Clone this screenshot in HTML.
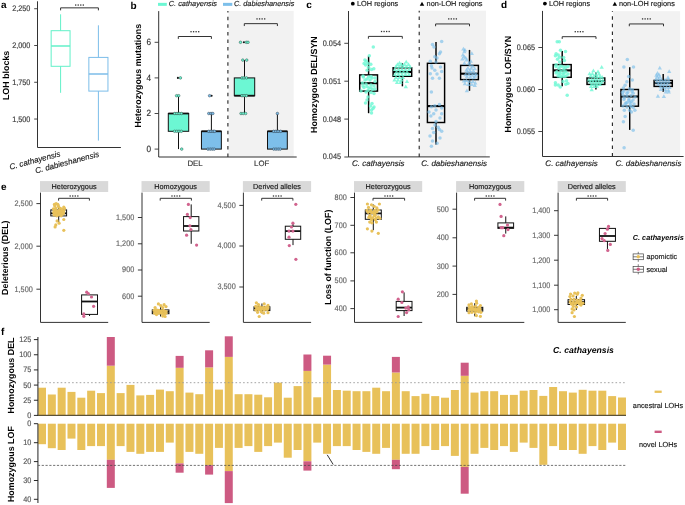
<!DOCTYPE html>
<html><head><meta charset="utf-8"><style>
html,body{margin:0;padding:0;background:#fff;}
body{width:685px;height:505px;overflow:hidden;}
svg{display:block;font-family:"Liberation Sans", sans-serif;will-change:transform;text-rendering:geometricPrecision;}
</style></head><body>
<svg width="685" height="505" viewBox="0 0 685 505">
<rect width="685" height="505" fill="#fff"/>
<text x="0.9" y="7.9" font-size="10" fill="#000" text-anchor="start" font-weight="bold" font-style="normal" >a</text>
<text x="130.6" y="8.9" font-size="10" fill="#000" text-anchor="start" font-weight="bold" font-style="normal" >b</text>
<text x="306.2" y="8.4" font-size="10" fill="#000" text-anchor="start" font-weight="bold" font-style="normal" >c</text>
<text x="501" y="8.4" font-size="10" fill="#000" text-anchor="start" font-weight="bold" font-style="normal" >d</text>
<text x="0.9" y="189.6" font-size="10" fill="#000" text-anchor="start" font-weight="bold" font-style="normal" >e</text>
<text x="0.9" y="334.5" font-size="10" fill="#000" text-anchor="start" font-weight="bold" font-style="normal" >f</text>
<line x1="37.5" y1="1.3" x2="37.5" y2="147.5" stroke="#333" stroke-width="1" />
<line x1="37.5" y1="147.5" x2="120.9" y2="147.5" stroke="#333" stroke-width="1" />
<line x1="34.2" y1="8.73" x2="37.5" y2="8.73" stroke="#333" stroke-width="0.9" />
<text x="0" y="0" font-size="7.3" fill="#383838" text-anchor="end" font-weight="normal" font-style="normal" transform="translate(30.4 11.33) scale(1 1.1)"  stroke="#383838" stroke-width="0.15">2,250</text>
<line x1="34.2" y1="45.5" x2="37.5" y2="45.5" stroke="#333" stroke-width="0.9" />
<text x="0" y="0" font-size="7.3" fill="#383838" text-anchor="end" font-weight="normal" font-style="normal" transform="translate(30.4 48.1) scale(1 1.1)"  stroke="#383838" stroke-width="0.15">2,000</text>
<line x1="34.2" y1="82.27" x2="37.5" y2="82.27" stroke="#333" stroke-width="0.9" />
<text x="0" y="0" font-size="7.3" fill="#383838" text-anchor="end" font-weight="normal" font-style="normal" transform="translate(30.4 84.87) scale(1 1.1)"  stroke="#383838" stroke-width="0.15">1,750</text>
<line x1="34.2" y1="119.04" x2="37.5" y2="119.04" stroke="#333" stroke-width="0.9" />
<text x="0" y="0" font-size="7.3" fill="#383838" text-anchor="end" font-weight="normal" font-style="normal" transform="translate(30.4 121.64) scale(1 1.1)"  stroke="#383838" stroke-width="0.15">1,500</text>
<text x="8.7" y="75.4" font-size="8.9" fill="#000" text-anchor="middle" font-weight="bold" font-style="normal" transform="rotate(-90 8.7 75.4)" >LOH blocks</text>
<path d="M60.6 10.35V7.85H98.4V10.35" fill="none" stroke="#333" stroke-width="1.0"/>
<rect x="75.02" y="4.4" width="1.3" height="1.3" fill="#333"/>
<rect x="77.57" y="4.4" width="1.3" height="1.3" fill="#333"/>
<rect x="80.12" y="4.4" width="1.3" height="1.3" fill="#333"/>
<rect x="82.67" y="4.4" width="1.3" height="1.3" fill="#333"/>
<line x1="60.6" y1="14.3" x2="60.6" y2="30.7" stroke="#62f0c8" stroke-width="1.0" />
<line x1="60.6" y1="66.3" x2="60.6" y2="92.8" stroke="#62f0c8" stroke-width="1.0" />
<rect x="51.15" y="30.7" width="18.9" height="35.6" fill="none" stroke="#62f0c8" stroke-width="1.0" />
<line x1="51.15" y1="46" x2="70.05" y2="46" stroke="#62f0c8" stroke-width="1.5" />
<line x1="98.4" y1="25.3" x2="98.4" y2="57.4" stroke="#7cbde9" stroke-width="1.0" />
<line x1="98.4" y1="91.1" x2="98.4" y2="140.6" stroke="#7cbde9" stroke-width="1.0" />
<rect x="88.85" y="57.4" width="19.1" height="33.7" fill="none" stroke="#7cbde9" stroke-width="1.0" />
<line x1="88.85" y1="74" x2="107.95" y2="74" stroke="#7cbde9" stroke-width="1.5" />
<text x="60.9" y="156.1" font-size="8" fill="#1a1a1a" text-anchor="end" font-weight="normal" font-style="italic" transform="rotate(-15 60.9 156.1)"  stroke="#1a1a1a" stroke-width="0.15">C. cathayensis</text>
<text x="99.6" y="156.4" font-size="8" fill="#1a1a1a" text-anchor="end" font-weight="normal" font-style="italic" transform="rotate(-15 99.6 156.4)"  stroke="#1a1a1a" stroke-width="0.15">C. dabieshanensis</text>
<rect x="228.5" y="10.9" width="65.2" height="146.1" fill="#f2f2f2" stroke="none" stroke-width="1" />
<line x1="227.9" y1="157" x2="227.9" y2="10.9" stroke="#222" stroke-width="1.1" stroke-dasharray="3.5 4.1"/>
<line x1="158.7" y1="11.1" x2="158.7" y2="157" stroke="#333" stroke-width="1" />
<line x1="158.7" y1="157" x2="296.7" y2="157" stroke="#333" stroke-width="1" />
<line x1="154.6" y1="149.1" x2="158.7" y2="149.1" stroke="#333" stroke-width="0.9" />
<text x="0" y="0" font-size="8.2" fill="#333" text-anchor="end" font-weight="normal" font-style="normal" transform="translate(151.1 151.8) scale(1 1.1)"  stroke="#333" stroke-width="0.15">0</text>
<line x1="154.6" y1="113.5" x2="158.7" y2="113.5" stroke="#333" stroke-width="0.9" />
<text x="0" y="0" font-size="8.2" fill="#333" text-anchor="end" font-weight="normal" font-style="normal" transform="translate(151.1 116.2) scale(1 1.1)"  stroke="#333" stroke-width="0.15">2</text>
<line x1="154.6" y1="77.9" x2="158.7" y2="77.9" stroke="#333" stroke-width="0.9" />
<text x="0" y="0" font-size="8.2" fill="#333" text-anchor="end" font-weight="normal" font-style="normal" transform="translate(151.1 80.6) scale(1 1.1)"  stroke="#333" stroke-width="0.15">4</text>
<line x1="154.6" y1="42.3" x2="158.7" y2="42.3" stroke="#333" stroke-width="0.9" />
<text x="0" y="0" font-size="8.2" fill="#333" text-anchor="end" font-weight="normal" font-style="normal" transform="translate(151.1 45) scale(1 1.1)"  stroke="#333" stroke-width="0.15">6</text>
<text x="141.3" y="75.7" font-size="8.9" fill="#000" text-anchor="middle" font-weight="bold" font-style="normal" transform="rotate(-90 141.3 75.7)" >Heterozygous mutations</text>
<rect x="158" y="2.85" width="8.8" height="3" fill="#6cf7d3" stroke="none" stroke-width="1" />
<text x="168.8" y="6.2" font-size="7.35" fill="#1a1a1a" text-anchor="start" font-weight="normal" font-style="italic"  stroke="#1a1a1a" stroke-width="0.15">C. cathayensis</text>
<rect x="223" y="2.85" width="9.3" height="3" fill="#7dbfea" stroke="none" stroke-width="1" />
<text x="233.9" y="6.2" font-size="7.35" fill="#1a1a1a" text-anchor="start" font-weight="normal" font-style="italic"  stroke="#1a1a1a" stroke-width="0.15">C. dabieshanensis</text>
<path d="M178.3 38.9V36.5H211.4V38.9" fill="none" stroke="#333" stroke-width="1.0"/>
<rect x="190.38" y="31.05" width="1.3" height="1.3" fill="#333"/>
<rect x="192.93" y="31.05" width="1.3" height="1.3" fill="#333"/>
<rect x="195.48" y="31.05" width="1.3" height="1.3" fill="#333"/>
<rect x="198.03" y="31.05" width="1.3" height="1.3" fill="#333"/>
<path d="M244.3 26.05V23.65H277.4V26.05" fill="none" stroke="#333" stroke-width="1.0"/>
<rect x="256.38" y="18.25" width="1.3" height="1.3" fill="#333"/>
<rect x="258.93" y="18.25" width="1.3" height="1.3" fill="#333"/>
<rect x="261.48" y="18.25" width="1.3" height="1.3" fill="#333"/>
<rect x="264.03" y="18.25" width="1.3" height="1.3" fill="#333"/>
<line x1="178.5" y1="95.7" x2="178.5" y2="113.5" stroke="#111" stroke-width="1.0" />
<line x1="178.5" y1="131.3" x2="178.5" y2="149.1" stroke="#111" stroke-width="1.0" />
<rect x="168.3" y="113.5" width="20.4" height="17.8" fill="#6cf7d3" stroke="#111" stroke-width="1.0" />
<line x1="168.3" y1="113.5" x2="188.7" y2="113.5" stroke="#111" stroke-width="1.8" />
<line x1="211.4" y1="113.5" x2="211.4" y2="131.3" stroke="#111" stroke-width="1.0" />
<rect x="201.45" y="131.3" width="19.9" height="17.8" fill="#7dbfea" stroke="#111" stroke-width="1.0" />
<line x1="201.5" y1="131.3" x2="221.4" y2="131.3" stroke="#111" stroke-width="1.8" />
<line x1="244.5" y1="60.1" x2="244.5" y2="77.9" stroke="#111" stroke-width="1.0" />
<line x1="244.5" y1="95.7" x2="244.5" y2="113.5" stroke="#111" stroke-width="1.0" />
<rect x="234.3" y="77.9" width="20.4" height="17.8" fill="#6cf7d3" stroke="#111" stroke-width="1.0" />
<line x1="234.3" y1="95.7" x2="254.7" y2="95.7" stroke="#111" stroke-width="1.8" />
<line x1="277.4" y1="113.5" x2="277.4" y2="131.3" stroke="#111" stroke-width="1.0" />
<rect x="267.5" y="131.3" width="19.8" height="17.8" fill="#7dbfea" stroke="#111" stroke-width="1.0" />
<line x1="267.5" y1="131.3" x2="287.3" y2="131.3" stroke="#111" stroke-width="1.8" />
<circle cx="177.9" cy="77.9" r="1.05" fill="#111" stroke="none" stroke-width="0.5"/>
<circle cx="211.6" cy="95.7" r="1.05" fill="#111" stroke="none" stroke-width="0.5"/>
<circle cx="243.9" cy="42.3" r="1.05" fill="#111" stroke="none" stroke-width="0.5"/>
<circle cx="180.4" cy="77.9" r="1.3" fill="#6cf7d3" stroke="#2f4f46" stroke-width="0.5"/>
<circle cx="176.6" cy="95.7" r="1.3" fill="#6cf7d3" stroke="#2f4f46" stroke-width="0.5"/>
<circle cx="178.7" cy="95.7" r="1.3" fill="#6cf7d3" stroke="#2f4f46" stroke-width="0.5"/>
<circle cx="174.8" cy="113.5" r="1.3" fill="#6cf7d3" stroke="#2f4f46" stroke-width="0.5"/>
<circle cx="177" cy="113.5" r="1.3" fill="#6cf7d3" stroke="#2f4f46" stroke-width="0.5"/>
<circle cx="179.2" cy="113.5" r="1.3" fill="#6cf7d3" stroke="#2f4f46" stroke-width="0.5"/>
<circle cx="181.4" cy="113.5" r="1.3" fill="#6cf7d3" stroke="#2f4f46" stroke-width="0.5"/>
<circle cx="174.6" cy="131.3" r="1.3" fill="#6cf7d3" stroke="#2f4f46" stroke-width="0.5"/>
<circle cx="176.8" cy="131.3" r="1.3" fill="#6cf7d3" stroke="#2f4f46" stroke-width="0.5"/>
<circle cx="179" cy="131.3" r="1.3" fill="#6cf7d3" stroke="#2f4f46" stroke-width="0.5"/>
<circle cx="181.3" cy="131.3" r="1.3" fill="#6cf7d3" stroke="#2f4f46" stroke-width="0.5"/>
<circle cx="181.7" cy="149.1" r="1.3" fill="#6cf7d3" stroke="#2f4f46" stroke-width="0.5"/>
<circle cx="209.6" cy="95.7" r="1.3" fill="#7dbfea" stroke="#2f3f4f" stroke-width="0.5"/>
<circle cx="208.8" cy="113.5" r="1.3" fill="#7dbfea" stroke="#2f3f4f" stroke-width="0.5"/>
<circle cx="211" cy="113.5" r="1.3" fill="#7dbfea" stroke="#2f3f4f" stroke-width="0.5"/>
<circle cx="212.8" cy="113.5" r="1.3" fill="#7dbfea" stroke="#2f3f4f" stroke-width="0.5"/>
<circle cx="208.8" cy="131.3" r="1.3" fill="#7dbfea" stroke="#2f3f4f" stroke-width="0.5"/>
<circle cx="211" cy="131.3" r="1.3" fill="#7dbfea" stroke="#2f3f4f" stroke-width="0.5"/>
<circle cx="213.2" cy="131.3" r="1.3" fill="#7dbfea" stroke="#2f3f4f" stroke-width="0.5"/>
<circle cx="214.6" cy="131.3" r="1.3" fill="#7dbfea" stroke="#2f3f4f" stroke-width="0.5"/>
<circle cx="208" cy="149.1" r="1.3" fill="#7dbfea" stroke="#2f3f4f" stroke-width="0.5"/>
<circle cx="210.2" cy="149.1" r="1.3" fill="#7dbfea" stroke="#2f3f4f" stroke-width="0.5"/>
<circle cx="212.3" cy="149.1" r="1.3" fill="#7dbfea" stroke="#2f3f4f" stroke-width="0.5"/>
<circle cx="214.2" cy="149.1" r="1.3" fill="#7dbfea" stroke="#2f3f4f" stroke-width="0.5"/>
<circle cx="240.5" cy="42.3" r="1.3" fill="#6cf7d3" stroke="#2f4f46" stroke-width="0.5"/>
<circle cx="246.3" cy="42.3" r="1.3" fill="#6cf7d3" stroke="#2f4f46" stroke-width="0.5"/>
<circle cx="248" cy="42.3" r="1.3" fill="#6cf7d3" stroke="#2f4f46" stroke-width="0.5"/>
<circle cx="242.8" cy="60.1" r="1.3" fill="#6cf7d3" stroke="#2f4f46" stroke-width="0.5"/>
<circle cx="246.7" cy="60.1" r="1.3" fill="#6cf7d3" stroke="#2f4f46" stroke-width="0.5"/>
<circle cx="242" cy="77.9" r="1.3" fill="#6cf7d3" stroke="#2f4f46" stroke-width="0.5"/>
<circle cx="244" cy="77.9" r="1.3" fill="#6cf7d3" stroke="#2f4f46" stroke-width="0.5"/>
<circle cx="246.4" cy="77.9" r="1.3" fill="#6cf7d3" stroke="#2f4f46" stroke-width="0.5"/>
<circle cx="242" cy="95.7" r="1.3" fill="#6cf7d3" stroke="#2f4f46" stroke-width="0.5"/>
<circle cx="244.2" cy="95.7" r="1.3" fill="#6cf7d3" stroke="#2f4f46" stroke-width="0.5"/>
<circle cx="246.4" cy="95.7" r="1.3" fill="#6cf7d3" stroke="#2f4f46" stroke-width="0.5"/>
<circle cx="241" cy="113.5" r="1.3" fill="#6cf7d3" stroke="#2f4f46" stroke-width="0.5"/>
<circle cx="243.2" cy="113.5" r="1.3" fill="#6cf7d3" stroke="#2f4f46" stroke-width="0.5"/>
<circle cx="245.6" cy="113.5" r="1.3" fill="#6cf7d3" stroke="#2f4f46" stroke-width="0.5"/>
<circle cx="277.4" cy="113.5" r="1.3" fill="#7dbfea" stroke="#2f3f4f" stroke-width="0.5"/>
<circle cx="273.7" cy="131.3" r="1.3" fill="#7dbfea" stroke="#2f3f4f" stroke-width="0.5"/>
<circle cx="275.9" cy="131.3" r="1.3" fill="#7dbfea" stroke="#2f3f4f" stroke-width="0.5"/>
<circle cx="278.1" cy="131.3" r="1.3" fill="#7dbfea" stroke="#2f3f4f" stroke-width="0.5"/>
<circle cx="280.6" cy="131.3" r="1.3" fill="#7dbfea" stroke="#2f3f4f" stroke-width="0.5"/>
<circle cx="273.8" cy="149.1" r="1.3" fill="#7dbfea" stroke="#2f3f4f" stroke-width="0.5"/>
<circle cx="276" cy="149.1" r="1.3" fill="#7dbfea" stroke="#2f3f4f" stroke-width="0.5"/>
<circle cx="278.2" cy="149.1" r="1.3" fill="#7dbfea" stroke="#2f3f4f" stroke-width="0.5"/>
<circle cx="280.2" cy="149.1" r="1.3" fill="#7dbfea" stroke="#2f3f4f" stroke-width="0.5"/>
<text x="195" y="166.4" font-size="7.8" fill="#333" text-anchor="middle" font-weight="normal" font-style="normal"  stroke="#333" stroke-width="0.15">DEL</text>
<text x="261.7" y="166.4" font-size="7.8" fill="#333" text-anchor="middle" font-weight="normal" font-style="normal"  stroke="#333" stroke-width="0.15">LOF</text>
<rect x="419.6" y="10.7" width="66.4" height="146.2" fill="#f2f2f2" stroke="none" stroke-width="1" />
<line x1="419.2" y1="156.9" x2="419.2" y2="10.7" stroke="#222" stroke-width="1.1" stroke-dasharray="3.5 4.1"/>
<line x1="348.5" y1="11" x2="348.5" y2="156.9" stroke="#333" stroke-width="1" />
<line x1="348.5" y1="156.9" x2="489.8" y2="156.9" stroke="#333" stroke-width="1" />
<line x1="344.3" y1="43.3" x2="348.5" y2="43.3" stroke="#333" stroke-width="0.9" />
<text x="0" y="0" font-size="7.3" fill="#383838" text-anchor="end" font-weight="normal" font-style="normal" transform="translate(341 45.7) scale(1 1.1)"  stroke="#383838" stroke-width="0.15">0.054</text>
<line x1="344.3" y1="81.2" x2="348.5" y2="81.2" stroke="#333" stroke-width="0.9" />
<text x="0" y="0" font-size="7.3" fill="#383838" text-anchor="end" font-weight="normal" font-style="normal" transform="translate(341 83.6) scale(1 1.1)"  stroke="#383838" stroke-width="0.15">0.051</text>
<line x1="344.3" y1="119.1" x2="348.5" y2="119.1" stroke="#333" stroke-width="0.9" />
<text x="0" y="0" font-size="7.3" fill="#383838" text-anchor="end" font-weight="normal" font-style="normal" transform="translate(341 121.5) scale(1 1.1)"  stroke="#383838" stroke-width="0.15">0.048</text>
<line x1="344.3" y1="157" x2="348.5" y2="157" stroke="#333" stroke-width="0.9" />
<text x="0" y="0" font-size="7.3" fill="#383838" text-anchor="end" font-weight="normal" font-style="normal" transform="translate(341 159.4) scale(1 1.1)"  stroke="#383838" stroke-width="0.15">0.045</text>
<text x="316.8" y="84.6" font-size="8.9" fill="#000" text-anchor="middle" font-weight="bold" font-style="normal" transform="rotate(-90 316.8 84.6)" >Homozygous DEL/SYN</text>
<circle cx="352.8" cy="3.7" r="1.9" fill="#000" stroke="none" stroke-width="0.5"/>
<text x="357" y="5.8" font-size="7.35" fill="#1a1a1a" text-anchor="start" font-weight="normal" font-style="normal"  stroke="#1a1a1a" stroke-width="0.15">LOH regions</text>
<path d="M422 1.76L424.25 5.66L419.75 5.66Z" fill="#000"/>
<text x="426.6" y="5.8" font-size="7.35" fill="#1a1a1a" text-anchor="start" font-weight="normal" font-style="normal"  stroke="#1a1a1a" stroke-width="0.15">non-LOH regions</text>
<path d="M368.4 38.7V36.4H402.3V38.7" fill="none" stroke="#333" stroke-width="1.0"/>
<rect x="380.88" y="30.85" width="1.3" height="1.3" fill="#333"/>
<rect x="383.43" y="30.85" width="1.3" height="1.3" fill="#333"/>
<rect x="385.98" y="30.85" width="1.3" height="1.3" fill="#333"/>
<rect x="388.53" y="30.85" width="1.3" height="1.3" fill="#333"/>
<path d="M435.6 26.25V23.95H469.5V26.25" fill="none" stroke="#333" stroke-width="1.0"/>
<rect x="448.08" y="18.25" width="1.3" height="1.3" fill="#333"/>
<rect x="450.63" y="18.25" width="1.3" height="1.3" fill="#333"/>
<rect x="453.18" y="18.25" width="1.3" height="1.3" fill="#333"/>
<rect x="455.73" y="18.25" width="1.3" height="1.3" fill="#333"/>
<text x="378.2" y="166" font-size="8" fill="#1a1a1a" text-anchor="middle" font-weight="normal" font-style="italic"  stroke="#1a1a1a" stroke-width="0.15">C. cathayensis</text>
<text x="454.1" y="166" font-size="8" fill="#1a1a1a" text-anchor="middle" font-weight="normal" font-style="italic"  stroke="#1a1a1a" stroke-width="0.15">C. dabieshanensis</text>
<line x1="368.6" y1="56.2" x2="368.6" y2="74.9" stroke="#000" stroke-width="1.45" />
<line x1="368.6" y1="91.1" x2="368.6" y2="113.2" stroke="#000" stroke-width="1.45" />
<rect x="359.7" y="74.9" width="17.8" height="16.2" fill="none" stroke="#000" stroke-width="1.45" />
<line x1="359.7" y1="83.2" x2="377.5" y2="83.2" stroke="#000" stroke-width="2.1" />
<line x1="402.4" y1="63.3" x2="402.4" y2="67.8" stroke="#000" stroke-width="1.45" />
<line x1="402.4" y1="76.3" x2="402.4" y2="86.3" stroke="#000" stroke-width="1.45" />
<rect x="393.1" y="67.8" width="18.6" height="8.5" fill="none" stroke="#000" stroke-width="1.45" />
<line x1="393.1" y1="72" x2="411.7" y2="72" stroke="#000" stroke-width="2.1" />
<line x1="436" y1="41.9" x2="436" y2="63.3" stroke="#000" stroke-width="1.45" />
<line x1="436" y1="122.5" x2="436" y2="144.6" stroke="#000" stroke-width="1.45" />
<rect x="427.4" y="63.3" width="17.2" height="59.2" fill="none" stroke="#000" stroke-width="1.45" />
<line x1="427.4" y1="106.1" x2="444.6" y2="106.1" stroke="#000" stroke-width="2.1" />
<line x1="469.5" y1="49.9" x2="469.5" y2="65.4" stroke="#000" stroke-width="1.45" />
<line x1="469.5" y1="79.6" x2="469.5" y2="90.8" stroke="#000" stroke-width="1.45" />
<rect x="460.6" y="65.4" width="17.8" height="14.2" fill="none" stroke="#000" stroke-width="1.45" />
<line x1="460.6" y1="73.7" x2="478.4" y2="73.7" stroke="#000" stroke-width="2.1" />
<circle cx="373.3" cy="46.9" r="1.75" fill="#6cf7d3" stroke="none" stroke-width="0.5" fill-opacity="0.8"/>
<circle cx="369.3" cy="55.7" r="1.75" fill="#6cf7d3" stroke="none" stroke-width="0.5" fill-opacity="0.8"/>
<circle cx="364.9" cy="59.9" r="1.75" fill="#6cf7d3" stroke="none" stroke-width="0.5" fill-opacity="0.8"/>
<circle cx="366.3" cy="61.3" r="1.75" fill="#6cf7d3" stroke="none" stroke-width="0.5" fill-opacity="0.8"/>
<circle cx="364.1" cy="63.6" r="1.75" fill="#6cf7d3" stroke="none" stroke-width="0.5" fill-opacity="0.8"/>
<circle cx="367.8" cy="63.6" r="1.75" fill="#6cf7d3" stroke="none" stroke-width="0.5" fill-opacity="0.8"/>
<circle cx="370.8" cy="64.3" r="1.75" fill="#6cf7d3" stroke="none" stroke-width="0.5" fill-opacity="0.8"/>
<circle cx="365.6" cy="65" r="1.75" fill="#6cf7d3" stroke="none" stroke-width="0.5" fill-opacity="0.8"/>
<circle cx="368.6" cy="67.3" r="1.75" fill="#6cf7d3" stroke="none" stroke-width="0.5" fill-opacity="0.8"/>
<circle cx="373.8" cy="68.8" r="1.75" fill="#6cf7d3" stroke="none" stroke-width="0.5" fill-opacity="0.8"/>
<circle cx="371.5" cy="69.5" r="1.75" fill="#6cf7d3" stroke="none" stroke-width="0.5" fill-opacity="0.8"/>
<circle cx="367.1" cy="70.3" r="1.75" fill="#6cf7d3" stroke="none" stroke-width="0.5" fill-opacity="0.8"/>
<circle cx="363.4" cy="77" r="1.75" fill="#6cf7d3" stroke="none" stroke-width="0.5" fill-opacity="0.8"/>
<circle cx="368.6" cy="77" r="1.75" fill="#6cf7d3" stroke="none" stroke-width="0.5" fill-opacity="0.8"/>
<circle cx="372" cy="78" r="1.75" fill="#6cf7d3" stroke="none" stroke-width="0.5" fill-opacity="0.8"/>
<circle cx="365" cy="80" r="1.75" fill="#6cf7d3" stroke="none" stroke-width="0.5" fill-opacity="0.8"/>
<circle cx="370" cy="80" r="1.75" fill="#6cf7d3" stroke="none" stroke-width="0.5" fill-opacity="0.8"/>
<circle cx="375" cy="81.5" r="1.75" fill="#6cf7d3" stroke="none" stroke-width="0.5" fill-opacity="0.8"/>
<circle cx="362.5" cy="83" r="1.75" fill="#6cf7d3" stroke="none" stroke-width="0.5" fill-opacity="0.8"/>
<circle cx="366" cy="84" r="1.75" fill="#6cf7d3" stroke="none" stroke-width="0.5" fill-opacity="0.8"/>
<circle cx="371" cy="85" r="1.75" fill="#6cf7d3" stroke="none" stroke-width="0.5" fill-opacity="0.8"/>
<circle cx="374" cy="86" r="1.75" fill="#6cf7d3" stroke="none" stroke-width="0.5" fill-opacity="0.8"/>
<circle cx="364" cy="87.5" r="1.75" fill="#6cf7d3" stroke="none" stroke-width="0.5" fill-opacity="0.8"/>
<circle cx="369" cy="88" r="1.75" fill="#6cf7d3" stroke="none" stroke-width="0.5" fill-opacity="0.8"/>
<circle cx="372.5" cy="89.5" r="1.75" fill="#6cf7d3" stroke="none" stroke-width="0.5" fill-opacity="0.8"/>
<circle cx="361" cy="91" r="1.75" fill="#6cf7d3" stroke="none" stroke-width="0.5" fill-opacity="0.8"/>
<circle cx="366" cy="92" r="1.75" fill="#6cf7d3" stroke="none" stroke-width="0.5" fill-opacity="0.8"/>
<circle cx="371" cy="92.5" r="1.75" fill="#6cf7d3" stroke="none" stroke-width="0.5" fill-opacity="0.8"/>
<circle cx="374" cy="93.5" r="1.75" fill="#6cf7d3" stroke="none" stroke-width="0.5" fill-opacity="0.8"/>
<circle cx="368" cy="97" r="1.75" fill="#6cf7d3" stroke="none" stroke-width="0.5" fill-opacity="0.8"/>
<circle cx="367" cy="100" r="1.75" fill="#6cf7d3" stroke="none" stroke-width="0.5" fill-opacity="0.8"/>
<circle cx="365.5" cy="103" r="1.75" fill="#6cf7d3" stroke="none" stroke-width="0.5" fill-opacity="0.8"/>
<circle cx="372" cy="103.5" r="1.75" fill="#6cf7d3" stroke="none" stroke-width="0.5" fill-opacity="0.8"/>
<circle cx="370.5" cy="106" r="1.75" fill="#6cf7d3" stroke="none" stroke-width="0.5" fill-opacity="0.8"/>
<circle cx="374" cy="107" r="1.75" fill="#6cf7d3" stroke="none" stroke-width="0.5" fill-opacity="0.8"/>
<circle cx="373" cy="108.5" r="1.75" fill="#6cf7d3" stroke="none" stroke-width="0.5" fill-opacity="0.8"/>
<circle cx="371.5" cy="110" r="1.75" fill="#6cf7d3" stroke="none" stroke-width="0.5" fill-opacity="0.8"/>
<circle cx="371.5" cy="113" r="1.75" fill="#6cf7d3" stroke="none" stroke-width="0.5" fill-opacity="0.8"/>
<circle cx="363" cy="76" r="1.75" fill="#6cf7d3" stroke="none" stroke-width="0.5" fill-opacity="0.8"/>
<circle cx="367" cy="79" r="1.75" fill="#6cf7d3" stroke="none" stroke-width="0.5" fill-opacity="0.8"/>
<circle cx="371" cy="76.5" r="1.75" fill="#6cf7d3" stroke="none" stroke-width="0.5" fill-opacity="0.8"/>
<circle cx="375" cy="78" r="1.75" fill="#6cf7d3" stroke="none" stroke-width="0.5" fill-opacity="0.8"/>
<circle cx="363" cy="86" r="1.75" fill="#6cf7d3" stroke="none" stroke-width="0.5" fill-opacity="0.8"/>
<circle cx="367" cy="86.5" r="1.75" fill="#6cf7d3" stroke="none" stroke-width="0.5" fill-opacity="0.8"/>
<circle cx="371" cy="88" r="1.75" fill="#6cf7d3" stroke="none" stroke-width="0.5" fill-opacity="0.8"/>
<circle cx="375" cy="89" r="1.75" fill="#6cf7d3" stroke="none" stroke-width="0.5" fill-opacity="0.8"/>
<circle cx="368" cy="90.5" r="1.75" fill="#6cf7d3" stroke="none" stroke-width="0.5" fill-opacity="0.8"/>
<path d="M399.5 60.67L401.65 64.39L397.35 64.39Z" fill="#6cf7d3" fill-opacity="0.8"/>
<path d="M406.2 59.87L408.35 63.59L404.05 63.59Z" fill="#6cf7d3" fill-opacity="0.8"/>
<path d="M397.5 62.27L399.65 65.99L395.35 65.99Z" fill="#6cf7d3" fill-opacity="0.8"/>
<path d="M401.5 62.27L403.65 65.99L399.35 65.99Z" fill="#6cf7d3" fill-opacity="0.8"/>
<path d="M404.5 62.27L406.65 65.99L402.35 65.99Z" fill="#6cf7d3" fill-opacity="0.8"/>
<path d="M408.5 62.27L410.65 65.99L406.35 65.99Z" fill="#6cf7d3" fill-opacity="0.8"/>
<path d="M396 64.27L398.15 67.99L393.85 67.99Z" fill="#6cf7d3" fill-opacity="0.8"/>
<path d="M399.5 64.27L401.65 67.99L397.35 67.99Z" fill="#6cf7d3" fill-opacity="0.8"/>
<path d="M403 64.27L405.15 67.99L400.85 67.99Z" fill="#6cf7d3" fill-opacity="0.8"/>
<path d="M406.5 64.27L408.65 67.99L404.35 67.99Z" fill="#6cf7d3" fill-opacity="0.8"/>
<path d="M410 64.57L412.15 68.29L407.85 68.29Z" fill="#6cf7d3" fill-opacity="0.8"/>
<path d="M395 67.27L397.15 70.99L392.85 70.99Z" fill="#6cf7d3" fill-opacity="0.8"/>
<path d="M398.5 67.27L400.65 70.99L396.35 70.99Z" fill="#6cf7d3" fill-opacity="0.8"/>
<path d="M402 67.27L404.15 70.99L399.85 70.99Z" fill="#6cf7d3" fill-opacity="0.8"/>
<path d="M405.5 67.27L407.65 70.99L403.35 70.99Z" fill="#6cf7d3" fill-opacity="0.8"/>
<path d="M409 67.27L411.15 70.99L406.85 70.99Z" fill="#6cf7d3" fill-opacity="0.8"/>
<path d="M396.5 69.77L398.65 73.49L394.35 73.49Z" fill="#6cf7d3" fill-opacity="0.8"/>
<path d="M400 69.77L402.15 73.49L397.85 73.49Z" fill="#6cf7d3" fill-opacity="0.8"/>
<path d="M403.5 69.77L405.65 73.49L401.35 73.49Z" fill="#6cf7d3" fill-opacity="0.8"/>
<path d="M407 69.77L409.15 73.49L404.85 73.49Z" fill="#6cf7d3" fill-opacity="0.8"/>
<path d="M395 72.27L397.15 75.99L392.85 75.99Z" fill="#6cf7d3" fill-opacity="0.8"/>
<path d="M398.5 72.27L400.65 75.99L396.35 75.99Z" fill="#6cf7d3" fill-opacity="0.8"/>
<path d="M402 72.27L404.15 75.99L399.85 75.99Z" fill="#6cf7d3" fill-opacity="0.8"/>
<path d="M405.5 72.27L407.65 75.99L403.35 75.99Z" fill="#6cf7d3" fill-opacity="0.8"/>
<path d="M409 72.27L411.15 75.99L406.85 75.99Z" fill="#6cf7d3" fill-opacity="0.8"/>
<path d="M396 75.27L398.15 78.99L393.85 78.99Z" fill="#6cf7d3" fill-opacity="0.8"/>
<path d="M399.5 75.27L401.65 78.99L397.35 78.99Z" fill="#6cf7d3" fill-opacity="0.8"/>
<path d="M403 75.27L405.15 78.99L400.85 78.99Z" fill="#6cf7d3" fill-opacity="0.8"/>
<path d="M394.5 77.77L396.65 81.49L392.35 81.49Z" fill="#6cf7d3" fill-opacity="0.8"/>
<path d="M398 77.77L400.15 81.49L395.85 81.49Z" fill="#6cf7d3" fill-opacity="0.8"/>
<path d="M401.5 77.77L403.65 81.49L399.35 81.49Z" fill="#6cf7d3" fill-opacity="0.8"/>
<path d="M397 80.27L399.15 83.99L394.85 83.99Z" fill="#6cf7d3" fill-opacity="0.8"/>
<path d="M400.5 80.27L402.65 83.99L398.35 83.99Z" fill="#6cf7d3" fill-opacity="0.8"/>
<path d="M407 79.27L409.15 82.99L404.85 82.99Z" fill="#6cf7d3" fill-opacity="0.8"/>
<path d="M405.8 84.47L407.95 88.19L403.65 88.19Z" fill="#6cf7d3" fill-opacity="0.8"/>
<circle cx="432.5" cy="44.6" r="1.75" fill="#7dbfea" stroke="none" stroke-width="0.5" fill-opacity="0.66"/>
<circle cx="441.7" cy="41.4" r="1.75" fill="#7dbfea" stroke="none" stroke-width="0.5" fill-opacity="0.66"/>
<circle cx="440.5" cy="52.1" r="1.75" fill="#7dbfea" stroke="none" stroke-width="0.5" fill-opacity="0.66"/>
<circle cx="439.4" cy="53.7" r="1.75" fill="#7dbfea" stroke="none" stroke-width="0.5" fill-opacity="0.66"/>
<circle cx="434.8" cy="56.7" r="1.75" fill="#7dbfea" stroke="none" stroke-width="0.5" fill-opacity="0.66"/>
<circle cx="430.3" cy="61.2" r="1.75" fill="#7dbfea" stroke="none" stroke-width="0.5" fill-opacity="0.66"/>
<circle cx="436" cy="61.9" r="1.75" fill="#7dbfea" stroke="none" stroke-width="0.5" fill-opacity="0.66"/>
<circle cx="431.4" cy="65.8" r="1.75" fill="#7dbfea" stroke="none" stroke-width="0.5" fill-opacity="0.66"/>
<circle cx="440.5" cy="66.9" r="1.75" fill="#7dbfea" stroke="none" stroke-width="0.5" fill-opacity="0.66"/>
<circle cx="434.8" cy="70.3" r="1.75" fill="#7dbfea" stroke="none" stroke-width="0.5" fill-opacity="0.66"/>
<circle cx="441.7" cy="71.5" r="1.75" fill="#7dbfea" stroke="none" stroke-width="0.5" fill-opacity="0.66"/>
<circle cx="430.3" cy="73.8" r="1.75" fill="#7dbfea" stroke="none" stroke-width="0.5" fill-opacity="0.66"/>
<circle cx="432.5" cy="78.3" r="1.75" fill="#7dbfea" stroke="none" stroke-width="0.5" fill-opacity="0.66"/>
<circle cx="439.4" cy="78.3" r="1.75" fill="#7dbfea" stroke="none" stroke-width="0.5" fill-opacity="0.66"/>
<circle cx="431.4" cy="92" r="1.75" fill="#7dbfea" stroke="none" stroke-width="0.5" fill-opacity="0.66"/>
<circle cx="439.4" cy="104.5" r="1.75" fill="#7dbfea" stroke="none" stroke-width="0.5" fill-opacity="0.66"/>
<circle cx="431.4" cy="106.8" r="1.75" fill="#7dbfea" stroke="none" stroke-width="0.5" fill-opacity="0.66"/>
<circle cx="434.8" cy="105.7" r="1.75" fill="#7dbfea" stroke="none" stroke-width="0.5" fill-opacity="0.66"/>
<circle cx="441.7" cy="108" r="1.75" fill="#7dbfea" stroke="none" stroke-width="0.5" fill-opacity="0.66"/>
<circle cx="433.7" cy="113.7" r="1.75" fill="#7dbfea" stroke="none" stroke-width="0.5" fill-opacity="0.66"/>
<circle cx="430.9" cy="115.9" r="1.75" fill="#7dbfea" stroke="none" stroke-width="0.5" fill-opacity="0.66"/>
<circle cx="441.7" cy="113.7" r="1.75" fill="#7dbfea" stroke="none" stroke-width="0.5" fill-opacity="0.66"/>
<circle cx="436" cy="121.6" r="1.75" fill="#7dbfea" stroke="none" stroke-width="0.5" fill-opacity="0.66"/>
<circle cx="432.5" cy="128.5" r="1.75" fill="#7dbfea" stroke="none" stroke-width="0.5" fill-opacity="0.66"/>
<circle cx="438.2" cy="127.3" r="1.75" fill="#7dbfea" stroke="none" stroke-width="0.5" fill-opacity="0.66"/>
<circle cx="439.4" cy="129.6" r="1.75" fill="#7dbfea" stroke="none" stroke-width="0.5" fill-opacity="0.66"/>
<circle cx="441.7" cy="131.2" r="1.75" fill="#7dbfea" stroke="none" stroke-width="0.5" fill-opacity="0.66"/>
<circle cx="433.7" cy="132.6" r="1.75" fill="#7dbfea" stroke="none" stroke-width="0.5" fill-opacity="0.66"/>
<circle cx="432.5" cy="141" r="1.75" fill="#7dbfea" stroke="none" stroke-width="0.5" fill-opacity="0.66"/>
<circle cx="437.1" cy="143.3" r="1.75" fill="#7dbfea" stroke="none" stroke-width="0.5" fill-opacity="0.66"/>
<circle cx="431.4" cy="146.3" r="1.75" fill="#7dbfea" stroke="none" stroke-width="0.5" fill-opacity="0.66"/>
<circle cx="434" cy="47" r="1.75" fill="#7dbfea" stroke="none" stroke-width="0.5" fill-opacity="0.66"/>
<circle cx="437" cy="58" r="1.75" fill="#7dbfea" stroke="none" stroke-width="0.5" fill-opacity="0.66"/>
<circle cx="432" cy="68" r="1.75" fill="#7dbfea" stroke="none" stroke-width="0.5" fill-opacity="0.66"/>
<circle cx="437" cy="74" r="1.75" fill="#7dbfea" stroke="none" stroke-width="0.5" fill-opacity="0.66"/>
<circle cx="440" cy="118" r="1.75" fill="#7dbfea" stroke="none" stroke-width="0.5" fill-opacity="0.66"/>
<circle cx="435" cy="125" r="1.75" fill="#7dbfea" stroke="none" stroke-width="0.5" fill-opacity="0.66"/>
<circle cx="430" cy="136" r="1.75" fill="#7dbfea" stroke="none" stroke-width="0.5" fill-opacity="0.66"/>
<circle cx="440" cy="138" r="1.75" fill="#7dbfea" stroke="none" stroke-width="0.5" fill-opacity="0.66"/>
<circle cx="436" cy="110" r="1.75" fill="#7dbfea" stroke="none" stroke-width="0.5" fill-opacity="0.66"/>
<circle cx="429" cy="112" r="1.75" fill="#7dbfea" stroke="none" stroke-width="0.5" fill-opacity="0.66"/>
<path d="M463.4 46.77L465.55 50.49L461.25 50.49Z" fill="#7dbfea" fill-opacity="0.66"/>
<path d="M464.9 47.87L467.05 51.59L462.75 51.59Z" fill="#7dbfea" fill-opacity="0.66"/>
<path d="M471.8 51.17L473.95 54.89L469.65 54.89Z" fill="#7dbfea" fill-opacity="0.66"/>
<path d="M464.4 49.47L466.55 53.19L462.25 53.19Z" fill="#7dbfea" fill-opacity="0.66"/>
<path d="M462.9 52.67L465.05 56.39L460.75 56.39Z" fill="#7dbfea" fill-opacity="0.66"/>
<path d="M464.1 54.47L466.25 58.19L461.95 58.19Z" fill="#7dbfea" fill-opacity="0.66"/>
<path d="M465.7 55.87L467.85 59.59L463.55 59.59Z" fill="#7dbfea" fill-opacity="0.66"/>
<path d="M462.4 56.67L464.55 60.39L460.25 60.39Z" fill="#7dbfea" fill-opacity="0.66"/>
<path d="M466.7 57.67L468.85 61.39L464.55 61.39Z" fill="#7dbfea" fill-opacity="0.66"/>
<path d="M470.8 59.07L472.95 62.79L468.65 62.79Z" fill="#7dbfea" fill-opacity="0.66"/>
<path d="M464.4 61.07L466.55 64.79L462.25 64.79Z" fill="#7dbfea" fill-opacity="0.66"/>
<path d="M468.9 61.07L471.05 64.79L466.75 64.79Z" fill="#7dbfea" fill-opacity="0.66"/>
<path d="M470.3 62.57L472.45 66.29L468.15 66.29Z" fill="#7dbfea" fill-opacity="0.66"/>
<path d="M472.8 64.07L474.95 67.79L470.65 67.79Z" fill="#7dbfea" fill-opacity="0.66"/>
<path d="M467.9 66.07L470.05 69.79L465.75 69.79Z" fill="#7dbfea" fill-opacity="0.66"/>
<path d="M471.3 66.07L473.45 69.79L469.15 69.79Z" fill="#7dbfea" fill-opacity="0.66"/>
<path d="M474.8 66.57L476.95 70.29L472.65 70.29Z" fill="#7dbfea" fill-opacity="0.66"/>
<path d="M466.4 67.97L468.55 71.69L464.25 71.69Z" fill="#7dbfea" fill-opacity="0.66"/>
<path d="M469.9 68.27L472.05 71.99L467.75 71.99Z" fill="#7dbfea" fill-opacity="0.66"/>
<path d="M473.3 68.67L475.45 72.39L471.15 72.39Z" fill="#7dbfea" fill-opacity="0.66"/>
<path d="M467.4 69.97L469.55 73.69L465.25 73.69Z" fill="#7dbfea" fill-opacity="0.66"/>
<path d="M470.8 70.47L472.95 74.19L468.65 74.19Z" fill="#7dbfea" fill-opacity="0.66"/>
<path d="M474.3 70.97L476.45 74.69L472.15 74.69Z" fill="#7dbfea" fill-opacity="0.66"/>
<path d="M476.3 71.97L478.45 75.69L474.15 75.69Z" fill="#7dbfea" fill-opacity="0.66"/>
<path d="M465.4 72.47L467.55 76.19L463.25 76.19Z" fill="#7dbfea" fill-opacity="0.66"/>
<path d="M468.9 72.47L471.05 76.19L466.75 76.19Z" fill="#7dbfea" fill-opacity="0.66"/>
<path d="M472.3 72.97L474.45 76.69L470.15 76.69Z" fill="#7dbfea" fill-opacity="0.66"/>
<path d="M475.3 73.97L477.45 77.69L473.15 77.69Z" fill="#7dbfea" fill-opacity="0.66"/>
<path d="M466.9 74.47L469.05 78.19L464.75 78.19Z" fill="#7dbfea" fill-opacity="0.66"/>
<path d="M470.3 74.97L472.45 78.69L468.15 78.69Z" fill="#7dbfea" fill-opacity="0.66"/>
<path d="M473.8 75.47L475.95 79.19L471.65 79.19Z" fill="#7dbfea" fill-opacity="0.66"/>
<path d="M463.9 78.87L466.05 82.59L461.75 82.59Z" fill="#7dbfea" fill-opacity="0.66"/>
<path d="M466.4 78.37L468.55 82.09L464.25 82.09Z" fill="#7dbfea" fill-opacity="0.66"/>
<path d="M469.4 79.37L471.55 83.09L467.25 83.09Z" fill="#7dbfea" fill-opacity="0.66"/>
<path d="M472.8 79.17L474.95 82.89L470.65 82.89Z" fill="#7dbfea" fill-opacity="0.66"/>
<path d="M475.3 80.87L477.45 84.59L473.15 84.59Z" fill="#7dbfea" fill-opacity="0.66"/>
<path d="M464.9 81.57L467.05 85.29L462.75 85.29Z" fill="#7dbfea" fill-opacity="0.66"/>
<path d="M468.4 82.37L470.55 86.09L466.25 86.09Z" fill="#7dbfea" fill-opacity="0.66"/>
<path d="M471.8 82.37L473.95 86.09L469.65 86.09Z" fill="#7dbfea" fill-opacity="0.66"/>
<path d="M474.8 83.37L476.95 87.09L472.65 87.09Z" fill="#7dbfea" fill-opacity="0.66"/>
<path d="M466.9 88.47L469.05 92.19L464.75 92.19Z" fill="#7dbfea" fill-opacity="0.66"/>
<rect x="613" y="11.2" width="67.1" height="145.3" fill="#f2f2f2" stroke="none" stroke-width="1" />
<line x1="612.4" y1="156.5" x2="612.4" y2="11.2" stroke="#222" stroke-width="1.1" stroke-dasharray="3.5 4.1"/>
<line x1="542.5" y1="10.9" x2="542.5" y2="156.5" stroke="#333" stroke-width="1" />
<line x1="542.5" y1="156.5" x2="683.6" y2="156.5" stroke="#333" stroke-width="1" />
<line x1="538.3" y1="47.5" x2="542.5" y2="47.5" stroke="#333" stroke-width="0.9" />
<text x="0" y="0" font-size="7.3" fill="#383838" text-anchor="end" font-weight="normal" font-style="normal" transform="translate(535 49.9) scale(1 1.1)"  stroke="#383838" stroke-width="0.15">0.065</text>
<line x1="538.3" y1="89.5" x2="542.5" y2="89.5" stroke="#333" stroke-width="0.9" />
<text x="0" y="0" font-size="7.3" fill="#383838" text-anchor="end" font-weight="normal" font-style="normal" transform="translate(535 91.9) scale(1 1.1)"  stroke="#383838" stroke-width="0.15">0.060</text>
<line x1="538.3" y1="131.5" x2="542.5" y2="131.5" stroke="#333" stroke-width="0.9" />
<text x="0" y="0" font-size="7.3" fill="#383838" text-anchor="end" font-weight="normal" font-style="normal" transform="translate(535 133.9) scale(1 1.1)"  stroke="#383838" stroke-width="0.15">0.055</text>
<text x="511" y="84.2" font-size="8.9" fill="#000" text-anchor="middle" font-weight="bold" font-style="normal" transform="rotate(-90 511 84.2)" >Homozygous LOF/SYN</text>
<circle cx="544.9" cy="3.6" r="1.9" fill="#000" stroke="none" stroke-width="0.5"/>
<text x="548.9" y="5.8" font-size="7.35" fill="#1a1a1a" text-anchor="start" font-weight="normal" font-style="normal"  stroke="#1a1a1a" stroke-width="0.15">LOH regions</text>
<path d="M614.8 1.86L617.05 5.76L612.55 5.76Z" fill="#000"/>
<text x="618.9" y="5.8" font-size="7.35" fill="#1a1a1a" text-anchor="start" font-weight="normal" font-style="normal"  stroke="#1a1a1a" stroke-width="0.15">non-LOH regions</text>
<path d="M562.2 38.9V36.7H596V38.9" fill="none" stroke="#333" stroke-width="1.0"/>
<rect x="574.62" y="31.05" width="1.3" height="1.3" fill="#333"/>
<rect x="577.18" y="31.05" width="1.3" height="1.3" fill="#333"/>
<rect x="579.73" y="31.05" width="1.3" height="1.3" fill="#333"/>
<rect x="582.28" y="31.05" width="1.3" height="1.3" fill="#333"/>
<path d="M629.3 26.25V23.95H663.5V26.25" fill="none" stroke="#333" stroke-width="1.0"/>
<rect x="641.92" y="18.25" width="1.3" height="1.3" fill="#333"/>
<rect x="644.48" y="18.25" width="1.3" height="1.3" fill="#333"/>
<rect x="647.02" y="18.25" width="1.3" height="1.3" fill="#333"/>
<rect x="649.58" y="18.25" width="1.3" height="1.3" fill="#333"/>
<text x="571.6" y="165.8" font-size="8" fill="#1a1a1a" text-anchor="middle" font-weight="normal" font-style="italic"  stroke="#1a1a1a" stroke-width="0.15">C. cathayensis</text>
<text x="648.5" y="166.2" font-size="8" fill="#1a1a1a" text-anchor="middle" font-weight="normal" font-style="italic"  stroke="#1a1a1a" stroke-width="0.15">C. dabieshanensis</text>
<line x1="562.2" y1="50.9" x2="562.2" y2="64.6" stroke="#000" stroke-width="1.45" />
<line x1="562.2" y1="77.3" x2="562.2" y2="86.2" stroke="#000" stroke-width="1.45" />
<rect x="553.2" y="64.6" width="18" height="12.7" fill="none" stroke="#000" stroke-width="1.45" />
<line x1="553.2" y1="70.4" x2="571.2" y2="70.4" stroke="#000" stroke-width="2.1" />
<line x1="595.9" y1="72.4" x2="595.9" y2="78" stroke="#000" stroke-width="1.45" />
<line x1="595.9" y1="84.4" x2="595.9" y2="89.4" stroke="#000" stroke-width="1.45" />
<rect x="587" y="78" width="17.8" height="6.4" fill="none" stroke="#000" stroke-width="1.45" />
<line x1="587" y1="81.1" x2="604.8" y2="81.1" stroke="#000" stroke-width="2.1" />
<line x1="629.7" y1="67.2" x2="629.7" y2="89.5" stroke="#000" stroke-width="1.45" />
<line x1="629.7" y1="106.2" x2="629.7" y2="129.9" stroke="#000" stroke-width="1.45" />
<rect x="620.95" y="89.5" width="17.5" height="16.7" fill="none" stroke="#000" stroke-width="1.45" />
<line x1="620.95" y1="96.5" x2="638.45" y2="96.5" stroke="#000" stroke-width="2.1" />
<line x1="663.2" y1="74" x2="663.2" y2="80.4" stroke="#000" stroke-width="1.45" />
<line x1="663.2" y1="86.4" x2="663.2" y2="91.7" stroke="#000" stroke-width="1.45" />
<rect x="654.1" y="80.4" width="18.2" height="6" fill="none" stroke="#000" stroke-width="1.45" />
<line x1="654.1" y1="83.1" x2="672.3" y2="83.1" stroke="#000" stroke-width="2.1" />
<circle cx="557.2" cy="41.7" r="1.75" fill="#6cf7d3" stroke="none" stroke-width="0.5" fill-opacity="0.8"/>
<circle cx="559.3" cy="41.7" r="1.75" fill="#6cf7d3" stroke="none" stroke-width="0.5" fill-opacity="0.8"/>
<circle cx="560.5" cy="50.2" r="1.75" fill="#6cf7d3" stroke="none" stroke-width="0.5" fill-opacity="0.8"/>
<circle cx="565.5" cy="51.4" r="1.75" fill="#6cf7d3" stroke="none" stroke-width="0.5" fill-opacity="0.8"/>
<circle cx="556.1" cy="53.7" r="1.75" fill="#6cf7d3" stroke="none" stroke-width="0.5" fill-opacity="0.8"/>
<circle cx="558.2" cy="55.1" r="1.75" fill="#6cf7d3" stroke="none" stroke-width="0.5" fill-opacity="0.8"/>
<circle cx="555.4" cy="55.8" r="1.75" fill="#6cf7d3" stroke="none" stroke-width="0.5" fill-opacity="0.8"/>
<circle cx="559.6" cy="57.2" r="1.75" fill="#6cf7d3" stroke="none" stroke-width="0.5" fill-opacity="0.8"/>
<circle cx="563.7" cy="57.5" r="1.75" fill="#6cf7d3" stroke="none" stroke-width="0.5" fill-opacity="0.8"/>
<circle cx="557.5" cy="59.3" r="1.75" fill="#6cf7d3" stroke="none" stroke-width="0.5" fill-opacity="0.8"/>
<circle cx="564.4" cy="60.6" r="1.75" fill="#6cf7d3" stroke="none" stroke-width="0.5" fill-opacity="0.8"/>
<circle cx="559.6" cy="62" r="1.75" fill="#6cf7d3" stroke="none" stroke-width="0.5" fill-opacity="0.8"/>
<circle cx="556.1" cy="64.8" r="1.75" fill="#6cf7d3" stroke="none" stroke-width="0.5" fill-opacity="0.8"/>
<circle cx="561.6" cy="66.2" r="1.75" fill="#6cf7d3" stroke="none" stroke-width="0.5" fill-opacity="0.8"/>
<circle cx="565.8" cy="67.6" r="1.75" fill="#6cf7d3" stroke="none" stroke-width="0.5" fill-opacity="0.8"/>
<circle cx="558.9" cy="68.3" r="1.75" fill="#6cf7d3" stroke="none" stroke-width="0.5" fill-opacity="0.8"/>
<circle cx="563.7" cy="69.7" r="1.75" fill="#6cf7d3" stroke="none" stroke-width="0.5" fill-opacity="0.8"/>
<circle cx="560.9" cy="71" r="1.75" fill="#6cf7d3" stroke="none" stroke-width="0.5" fill-opacity="0.8"/>
<circle cx="556.8" cy="71.7" r="1.75" fill="#6cf7d3" stroke="none" stroke-width="0.5" fill-opacity="0.8"/>
<circle cx="565.8" cy="71.7" r="1.75" fill="#6cf7d3" stroke="none" stroke-width="0.5" fill-opacity="0.8"/>
<circle cx="558.9" cy="73.8" r="1.75" fill="#6cf7d3" stroke="none" stroke-width="0.5" fill-opacity="0.8"/>
<circle cx="563" cy="73.8" r="1.75" fill="#6cf7d3" stroke="none" stroke-width="0.5" fill-opacity="0.8"/>
<circle cx="560.2" cy="76.6" r="1.75" fill="#6cf7d3" stroke="none" stroke-width="0.5" fill-opacity="0.8"/>
<circle cx="564.4" cy="76.6" r="1.75" fill="#6cf7d3" stroke="none" stroke-width="0.5" fill-opacity="0.8"/>
<circle cx="566.5" cy="80.7" r="1.75" fill="#6cf7d3" stroke="none" stroke-width="0.5" fill-opacity="0.8"/>
<circle cx="563" cy="81.4" r="1.75" fill="#6cf7d3" stroke="none" stroke-width="0.5" fill-opacity="0.8"/>
<circle cx="555.4" cy="82.8" r="1.75" fill="#6cf7d3" stroke="none" stroke-width="0.5" fill-opacity="0.8"/>
<circle cx="558.2" cy="84.9" r="1.75" fill="#6cf7d3" stroke="none" stroke-width="0.5" fill-opacity="0.8"/>
<circle cx="567.9" cy="83.5" r="1.75" fill="#6cf7d3" stroke="none" stroke-width="0.5" fill-opacity="0.8"/>
<circle cx="565.8" cy="84.2" r="1.75" fill="#6cf7d3" stroke="none" stroke-width="0.5" fill-opacity="0.8"/>
<circle cx="560.2" cy="87" r="1.75" fill="#6cf7d3" stroke="none" stroke-width="0.5" fill-opacity="0.8"/>
<circle cx="555.4" cy="84.9" r="1.75" fill="#6cf7d3" stroke="none" stroke-width="0.5" fill-opacity="0.8"/>
<circle cx="567.2" cy="95.3" r="1.75" fill="#6cf7d3" stroke="none" stroke-width="0.5" fill-opacity="0.8"/>
<circle cx="556" cy="66.5" r="1.75" fill="#6cf7d3" stroke="none" stroke-width="0.5" fill-opacity="0.8"/>
<circle cx="560" cy="66" r="1.75" fill="#6cf7d3" stroke="none" stroke-width="0.5" fill-opacity="0.8"/>
<circle cx="564" cy="67" r="1.75" fill="#6cf7d3" stroke="none" stroke-width="0.5" fill-opacity="0.8"/>
<circle cx="568" cy="66.5" r="1.75" fill="#6cf7d3" stroke="none" stroke-width="0.5" fill-opacity="0.8"/>
<circle cx="556" cy="73" r="1.75" fill="#6cf7d3" stroke="none" stroke-width="0.5" fill-opacity="0.8"/>
<circle cx="560" cy="73.5" r="1.75" fill="#6cf7d3" stroke="none" stroke-width="0.5" fill-opacity="0.8"/>
<circle cx="564" cy="73" r="1.75" fill="#6cf7d3" stroke="none" stroke-width="0.5" fill-opacity="0.8"/>
<circle cx="568" cy="74" r="1.75" fill="#6cf7d3" stroke="none" stroke-width="0.5" fill-opacity="0.8"/>
<circle cx="558" cy="76" r="1.75" fill="#6cf7d3" stroke="none" stroke-width="0.5" fill-opacity="0.8"/>
<circle cx="562" cy="76.5" r="1.75" fill="#6cf7d3" stroke="none" stroke-width="0.5" fill-opacity="0.8"/>
<circle cx="566" cy="76" r="1.75" fill="#6cf7d3" stroke="none" stroke-width="0.5" fill-opacity="0.8"/>
<path d="M601.7 64.97L603.85 68.69L599.55 68.69Z" fill="#6cf7d3" fill-opacity="0.8"/>
<path d="M593.4 68.47L595.55 72.19L591.25 72.19Z" fill="#6cf7d3" fill-opacity="0.8"/>
<path d="M598 69.47L600.15 73.19L595.85 73.19Z" fill="#6cf7d3" fill-opacity="0.8"/>
<path d="M589.6 71.57L591.75 75.29L587.45 75.29Z" fill="#6cf7d3" fill-opacity="0.8"/>
<path d="M592.4 71.57L594.55 75.29L590.25 75.29Z" fill="#6cf7d3" fill-opacity="0.8"/>
<path d="M595.9 72.27L598.05 75.99L593.75 75.99Z" fill="#6cf7d3" fill-opacity="0.8"/>
<path d="M599 71.87L601.15 75.59L596.85 75.59Z" fill="#6cf7d3" fill-opacity="0.8"/>
<path d="M590.7 73.67L592.85 77.39L588.55 77.39Z" fill="#6cf7d3" fill-opacity="0.8"/>
<path d="M593.8 73.97L595.95 77.69L591.65 77.69Z" fill="#6cf7d3" fill-opacity="0.8"/>
<path d="M596.9 74.37L599.05 78.09L594.75 78.09Z" fill="#6cf7d3" fill-opacity="0.8"/>
<path d="M600 74.37L602.15 78.09L597.85 78.09Z" fill="#6cf7d3" fill-opacity="0.8"/>
<path d="M602.1 74.97L604.25 78.69L599.95 78.69Z" fill="#6cf7d3" fill-opacity="0.8"/>
<path d="M588.9 77.77L591.05 81.49L586.75 81.49Z" fill="#6cf7d3" fill-opacity="0.8"/>
<path d="M591.7 77.47L593.85 81.19L589.55 81.19Z" fill="#6cf7d3" fill-opacity="0.8"/>
<path d="M594.5 77.07L596.65 80.79L592.35 80.79Z" fill="#6cf7d3" fill-opacity="0.8"/>
<path d="M597.2 77.07L599.35 80.79L595.05 80.79Z" fill="#6cf7d3" fill-opacity="0.8"/>
<path d="M600 77.47L602.15 81.19L597.85 81.19Z" fill="#6cf7d3" fill-opacity="0.8"/>
<path d="M602.8 78.17L604.95 81.89L600.65 81.89Z" fill="#6cf7d3" fill-opacity="0.8"/>
<path d="M590.3 79.87L592.45 83.59L588.15 83.59Z" fill="#6cf7d3" fill-opacity="0.8"/>
<path d="M593.1 79.57L595.25 83.29L590.95 83.29Z" fill="#6cf7d3" fill-opacity="0.8"/>
<path d="M595.9 79.87L598.05 83.59L593.75 83.59Z" fill="#6cf7d3" fill-opacity="0.8"/>
<path d="M598.6 79.87L600.75 83.59L596.45 83.59Z" fill="#6cf7d3" fill-opacity="0.8"/>
<path d="M601.4 80.17L603.55 83.89L599.25 83.89Z" fill="#6cf7d3" fill-opacity="0.8"/>
<path d="M591.7 81.97L593.85 85.69L589.55 85.69Z" fill="#6cf7d3" fill-opacity="0.8"/>
<path d="M594.5 81.97L596.65 85.69L592.35 85.69Z" fill="#6cf7d3" fill-opacity="0.8"/>
<path d="M597.2 81.97L599.35 85.69L595.05 85.69Z" fill="#6cf7d3" fill-opacity="0.8"/>
<path d="M600 82.27L602.15 85.99L597.85 85.99Z" fill="#6cf7d3" fill-opacity="0.8"/>
<path d="M591 84.37L593.15 88.09L588.85 88.09Z" fill="#6cf7d3" fill-opacity="0.8"/>
<path d="M594.1 84.37L596.25 88.09L591.95 88.09Z" fill="#6cf7d3" fill-opacity="0.8"/>
<path d="M596.9 84.07L599.05 87.79L594.75 87.79Z" fill="#6cf7d3" fill-opacity="0.8"/>
<path d="M591.7 87.47L593.85 91.19L589.55 91.19Z" fill="#6cf7d3" fill-opacity="0.8"/>
<circle cx="627.3" cy="59.5" r="1.75" fill="#7dbfea" stroke="none" stroke-width="0.5" fill-opacity="0.66"/>
<circle cx="623.9" cy="67.1" r="1.75" fill="#7dbfea" stroke="none" stroke-width="0.5" fill-opacity="0.66"/>
<circle cx="633.5" cy="67.1" r="1.75" fill="#7dbfea" stroke="none" stroke-width="0.5" fill-opacity="0.66"/>
<circle cx="628.7" cy="76.4" r="1.75" fill="#7dbfea" stroke="none" stroke-width="0.5" fill-opacity="0.66"/>
<circle cx="632.3" cy="79.9" r="1.75" fill="#7dbfea" stroke="none" stroke-width="0.5" fill-opacity="0.66"/>
<circle cx="626.9" cy="81.7" r="1.75" fill="#7dbfea" stroke="none" stroke-width="0.5" fill-opacity="0.66"/>
<circle cx="625.1" cy="85.3" r="1.75" fill="#7dbfea" stroke="none" stroke-width="0.5" fill-opacity="0.66"/>
<circle cx="623.4" cy="88" r="1.75" fill="#7dbfea" stroke="none" stroke-width="0.5" fill-opacity="0.66"/>
<circle cx="629.6" cy="88.8" r="1.75" fill="#7dbfea" stroke="none" stroke-width="0.5" fill-opacity="0.66"/>
<circle cx="632.3" cy="89.7" r="1.75" fill="#7dbfea" stroke="none" stroke-width="0.5" fill-opacity="0.66"/>
<circle cx="622.5" cy="92.4" r="1.75" fill="#7dbfea" stroke="none" stroke-width="0.5" fill-opacity="0.66"/>
<circle cx="626.9" cy="93.3" r="1.75" fill="#7dbfea" stroke="none" stroke-width="0.5" fill-opacity="0.66"/>
<circle cx="633.2" cy="93.3" r="1.75" fill="#7dbfea" stroke="none" stroke-width="0.5" fill-opacity="0.66"/>
<circle cx="624.3" cy="97.8" r="1.75" fill="#7dbfea" stroke="none" stroke-width="0.5" fill-opacity="0.66"/>
<circle cx="628.7" cy="100.4" r="1.75" fill="#7dbfea" stroke="none" stroke-width="0.5" fill-opacity="0.66"/>
<circle cx="626.9" cy="102.7" r="1.75" fill="#7dbfea" stroke="none" stroke-width="0.5" fill-opacity="0.66"/>
<circle cx="631.4" cy="101.7" r="1.75" fill="#7dbfea" stroke="none" stroke-width="0.5" fill-opacity="0.66"/>
<circle cx="625.1" cy="104" r="1.75" fill="#7dbfea" stroke="none" stroke-width="0.5" fill-opacity="0.66"/>
<circle cx="630.5" cy="104.9" r="1.75" fill="#7dbfea" stroke="none" stroke-width="0.5" fill-opacity="0.66"/>
<circle cx="633.2" cy="107.5" r="1.75" fill="#7dbfea" stroke="none" stroke-width="0.5" fill-opacity="0.66"/>
<circle cx="624.3" cy="110.2" r="1.75" fill="#7dbfea" stroke="none" stroke-width="0.5" fill-opacity="0.66"/>
<circle cx="629.6" cy="110.2" r="1.75" fill="#7dbfea" stroke="none" stroke-width="0.5" fill-opacity="0.66"/>
<circle cx="634.9" cy="110.2" r="1.75" fill="#7dbfea" stroke="none" stroke-width="0.5" fill-opacity="0.66"/>
<circle cx="631.4" cy="112" r="1.75" fill="#7dbfea" stroke="none" stroke-width="0.5" fill-opacity="0.66"/>
<circle cx="625.1" cy="116.5" r="1.75" fill="#7dbfea" stroke="none" stroke-width="0.5" fill-opacity="0.66"/>
<circle cx="623.4" cy="121.8" r="1.75" fill="#7dbfea" stroke="none" stroke-width="0.5" fill-opacity="0.66"/>
<circle cx="633.2" cy="130.2" r="1.75" fill="#7dbfea" stroke="none" stroke-width="0.5" fill-opacity="0.66"/>
<circle cx="624.1" cy="147.7" r="1.75" fill="#7dbfea" stroke="none" stroke-width="0.5" fill-opacity="0.66"/>
<circle cx="624" cy="91" r="1.75" fill="#7dbfea" stroke="none" stroke-width="0.5" fill-opacity="0.66"/>
<circle cx="628" cy="92" r="1.75" fill="#7dbfea" stroke="none" stroke-width="0.5" fill-opacity="0.66"/>
<circle cx="632" cy="91.5" r="1.75" fill="#7dbfea" stroke="none" stroke-width="0.5" fill-opacity="0.66"/>
<circle cx="623" cy="95" r="1.75" fill="#7dbfea" stroke="none" stroke-width="0.5" fill-opacity="0.66"/>
<circle cx="627" cy="96" r="1.75" fill="#7dbfea" stroke="none" stroke-width="0.5" fill-opacity="0.66"/>
<circle cx="631" cy="95.5" r="1.75" fill="#7dbfea" stroke="none" stroke-width="0.5" fill-opacity="0.66"/>
<circle cx="635" cy="97" r="1.75" fill="#7dbfea" stroke="none" stroke-width="0.5" fill-opacity="0.66"/>
<circle cx="624" cy="99.5" r="1.75" fill="#7dbfea" stroke="none" stroke-width="0.5" fill-opacity="0.66"/>
<circle cx="629" cy="99" r="1.75" fill="#7dbfea" stroke="none" stroke-width="0.5" fill-opacity="0.66"/>
<circle cx="633" cy="100" r="1.75" fill="#7dbfea" stroke="none" stroke-width="0.5" fill-opacity="0.66"/>
<circle cx="626" cy="103" r="1.75" fill="#7dbfea" stroke="none" stroke-width="0.5" fill-opacity="0.66"/>
<circle cx="630" cy="102.5" r="1.75" fill="#7dbfea" stroke="none" stroke-width="0.5" fill-opacity="0.66"/>
<circle cx="634" cy="104" r="1.75" fill="#7dbfea" stroke="none" stroke-width="0.5" fill-opacity="0.66"/>
<circle cx="623" cy="106" r="1.75" fill="#7dbfea" stroke="none" stroke-width="0.5" fill-opacity="0.66"/>
<circle cx="627" cy="107" r="1.75" fill="#7dbfea" stroke="none" stroke-width="0.5" fill-opacity="0.66"/>
<circle cx="631" cy="106.5" r="1.75" fill="#7dbfea" stroke="none" stroke-width="0.5" fill-opacity="0.66"/>
<path d="M659.8 65.77L661.95 69.49L657.65 69.49Z" fill="#7dbfea" fill-opacity="0.66"/>
<path d="M669.2 69.17L671.35 72.89L667.05 72.89Z" fill="#7dbfea" fill-opacity="0.66"/>
<path d="M657.5 71.07L659.65 74.79L655.35 74.79Z" fill="#7dbfea" fill-opacity="0.66"/>
<path d="M656.4 72.97L658.55 76.69L654.25 76.69Z" fill="#7dbfea" fill-opacity="0.66"/>
<path d="M659 72.57L661.15 76.29L656.85 76.29Z" fill="#7dbfea" fill-opacity="0.66"/>
<path d="M657.1 74.77L659.25 78.49L654.95 78.49Z" fill="#7dbfea" fill-opacity="0.66"/>
<path d="M659.8 74.77L661.95 78.49L657.65 78.49Z" fill="#7dbfea" fill-opacity="0.66"/>
<path d="M668 75.17L670.15 78.89L665.85 78.89Z" fill="#7dbfea" fill-opacity="0.66"/>
<path d="M656 77.07L658.15 80.79L653.85 80.79Z" fill="#7dbfea" fill-opacity="0.66"/>
<path d="M658.6 77.07L660.75 80.79L656.45 80.79Z" fill="#7dbfea" fill-opacity="0.66"/>
<path d="M661.3 77.47L663.45 81.19L659.15 81.19Z" fill="#7dbfea" fill-opacity="0.66"/>
<path d="M665 77.77L667.15 81.49L662.85 81.49Z" fill="#7dbfea" fill-opacity="0.66"/>
<path d="M668.4 77.47L670.55 81.19L666.25 81.19Z" fill="#7dbfea" fill-opacity="0.66"/>
<path d="M656.8 79.67L658.95 83.39L654.65 83.39Z" fill="#7dbfea" fill-opacity="0.66"/>
<path d="M659.8 79.67L661.95 83.39L657.65 83.39Z" fill="#7dbfea" fill-opacity="0.66"/>
<path d="M662.8 79.67L664.95 83.39L660.65 83.39Z" fill="#7dbfea" fill-opacity="0.66"/>
<path d="M665.8 79.67L667.95 83.39L663.65 83.39Z" fill="#7dbfea" fill-opacity="0.66"/>
<path d="M668.8 80.07L670.95 83.79L666.65 83.79Z" fill="#7dbfea" fill-opacity="0.66"/>
<path d="M658.3 81.97L660.45 85.69L656.15 85.69Z" fill="#7dbfea" fill-opacity="0.66"/>
<path d="M661.3 81.97L663.45 85.69L659.15 85.69Z" fill="#7dbfea" fill-opacity="0.66"/>
<path d="M664.3 82.37L666.45 86.09L662.15 86.09Z" fill="#7dbfea" fill-opacity="0.66"/>
<path d="M667.3 82.37L669.45 86.09L665.15 86.09Z" fill="#7dbfea" fill-opacity="0.66"/>
<path d="M660.5 84.57L662.65 88.29L658.35 88.29Z" fill="#7dbfea" fill-opacity="0.66"/>
<path d="M663.5 84.97L665.65 88.69L661.35 88.69Z" fill="#7dbfea" fill-opacity="0.66"/>
<path d="M666.5 84.97L668.65 88.69L664.35 88.69Z" fill="#7dbfea" fill-opacity="0.66"/>
<path d="M669.5 85.37L671.65 89.09L667.35 89.09Z" fill="#7dbfea" fill-opacity="0.66"/>
<path d="M660.9 87.17L663.05 90.89L658.75 90.89Z" fill="#7dbfea" fill-opacity="0.66"/>
<path d="M665.4 87.57L667.55 91.29L663.25 91.29Z" fill="#7dbfea" fill-opacity="0.66"/>
<path d="M668.4 87.97L670.55 91.69L666.25 91.69Z" fill="#7dbfea" fill-opacity="0.66"/>
<path d="M665.8 89.87L667.95 93.59L663.65 93.59Z" fill="#7dbfea" fill-opacity="0.66"/>
<path d="M668.8 89.87L670.95 93.59L666.65 93.59Z" fill="#7dbfea" fill-opacity="0.66"/>
<path d="M657.9 93.97L660.05 97.69L655.75 97.69Z" fill="#7dbfea" fill-opacity="0.66"/>
<path d="M663.9 94.37L666.05 98.09L661.75 98.09Z" fill="#7dbfea" fill-opacity="0.66"/>
<rect x="40" y="181.1" width="68.2" height="10.9" fill="#d9d9d9" stroke="none" stroke-width="1" />
<text x="74.1" y="188.9" font-size="7.3" fill="#1a1a1a" text-anchor="middle" font-weight="normal" font-style="normal"  stroke="#1a1a1a" stroke-width="0.15">Heterozygous</text>
<line x1="40.5" y1="192.6" x2="40.5" y2="322.4" stroke="#333" stroke-width="1" />
<line x1="40.5" y1="322.4" x2="108.2" y2="322.4" stroke="#333" stroke-width="1" />
<line x1="36.4" y1="203.6" x2="40.5" y2="203.6" stroke="#222" stroke-width="0.9" />
<text x="0" y="0" font-size="7.3" fill="#666666" text-anchor="end" font-weight="normal" font-style="normal" transform="translate(32.8 206) scale(1 1.1)"  stroke="#666666" stroke-width="0.15">2,500</text>
<line x1="36.4" y1="246.2" x2="40.5" y2="246.2" stroke="#222" stroke-width="0.9" />
<text x="0" y="0" font-size="7.3" fill="#666666" text-anchor="end" font-weight="normal" font-style="normal" transform="translate(32.8 248.6) scale(1 1.1)"  stroke="#666666" stroke-width="0.15">2,000</text>
<line x1="36.4" y1="289.2" x2="40.5" y2="289.2" stroke="#222" stroke-width="0.9" />
<text x="0" y="0" font-size="7.3" fill="#666666" text-anchor="end" font-weight="normal" font-style="normal" transform="translate(32.8 291.6) scale(1 1.1)"  stroke="#666666" stroke-width="0.15">1,500</text>
<path d="M58.6 200.6V198.3H89.4V200.6" fill="none" stroke="#333" stroke-width="1.0"/>
<rect x="69.52" y="195.35" width="1.3" height="1.3" fill="#333"/>
<rect x="72.07" y="195.35" width="1.3" height="1.3" fill="#333"/>
<rect x="74.62" y="195.35" width="1.3" height="1.3" fill="#333"/>
<rect x="77.17" y="195.35" width="1.3" height="1.3" fill="#333"/>
<line x1="58.7" y1="204.5" x2="58.7" y2="209.9" stroke="#111" stroke-width="1.0" />
<line x1="58.7" y1="215.9" x2="58.7" y2="223" stroke="#111" stroke-width="1.0" />
<rect x="50.8" y="209.9" width="15.8" height="6" fill="none" stroke="#111" stroke-width="1.0" />
<line x1="50.8" y1="213.3" x2="66.6" y2="213.3" stroke="#111" stroke-width="1.8" />
<circle cx="54.4" cy="204.4" r="1.6" fill="#e8c15a" stroke="none" stroke-width="0.5"/>
<circle cx="56.1" cy="203.7" r="1.6" fill="#e8c15a" stroke="none" stroke-width="0.5"/>
<circle cx="57.8" cy="204.4" r="1.6" fill="#e8c15a" stroke="none" stroke-width="0.5"/>
<circle cx="54.8" cy="206.1" r="1.6" fill="#e8c15a" stroke="none" stroke-width="0.5"/>
<circle cx="58.4" cy="206.4" r="1.6" fill="#e8c15a" stroke="none" stroke-width="0.5"/>
<circle cx="63.8" cy="207.1" r="1.6" fill="#e8c15a" stroke="none" stroke-width="0.5"/>
<circle cx="64.5" cy="208.4" r="1.6" fill="#e8c15a" stroke="none" stroke-width="0.5"/>
<circle cx="53.4" cy="208.8" r="1.6" fill="#e8c15a" stroke="none" stroke-width="0.5"/>
<circle cx="55.8" cy="208.4" r="1.6" fill="#e8c15a" stroke="none" stroke-width="0.5"/>
<circle cx="59.8" cy="208.1" r="1.6" fill="#e8c15a" stroke="none" stroke-width="0.5"/>
<circle cx="61.8" cy="208.8" r="1.6" fill="#e8c15a" stroke="none" stroke-width="0.5"/>
<circle cx="54.4" cy="210.4" r="1.6" fill="#e8c15a" stroke="none" stroke-width="0.5"/>
<circle cx="56.8" cy="210.8" r="1.6" fill="#e8c15a" stroke="none" stroke-width="0.5"/>
<circle cx="59.1" cy="210.4" r="1.6" fill="#e8c15a" stroke="none" stroke-width="0.5"/>
<circle cx="61.8" cy="211.1" r="1.6" fill="#e8c15a" stroke="none" stroke-width="0.5"/>
<circle cx="63.8" cy="210.8" r="1.6" fill="#e8c15a" stroke="none" stroke-width="0.5"/>
<circle cx="53.7" cy="212.5" r="1.6" fill="#e8c15a" stroke="none" stroke-width="0.5"/>
<circle cx="56.4" cy="212.5" r="1.6" fill="#e8c15a" stroke="none" stroke-width="0.5"/>
<circle cx="58.8" cy="212.5" r="1.6" fill="#e8c15a" stroke="none" stroke-width="0.5"/>
<circle cx="61.1" cy="212.5" r="1.6" fill="#e8c15a" stroke="none" stroke-width="0.5"/>
<circle cx="63.5" cy="212.8" r="1.6" fill="#e8c15a" stroke="none" stroke-width="0.5"/>
<circle cx="55.1" cy="214.1" r="1.6" fill="#e8c15a" stroke="none" stroke-width="0.5"/>
<circle cx="57.4" cy="214.5" r="1.6" fill="#e8c15a" stroke="none" stroke-width="0.5"/>
<circle cx="59.8" cy="214.1" r="1.6" fill="#e8c15a" stroke="none" stroke-width="0.5"/>
<circle cx="62.5" cy="214.1" r="1.6" fill="#e8c15a" stroke="none" stroke-width="0.5"/>
<circle cx="56.8" cy="215.8" r="1.6" fill="#e8c15a" stroke="none" stroke-width="0.5"/>
<circle cx="61.1" cy="215.8" r="1.6" fill="#e8c15a" stroke="none" stroke-width="0.5"/>
<circle cx="63.8" cy="219.5" r="1.6" fill="#e8c15a" stroke="none" stroke-width="0.5"/>
<circle cx="57.1" cy="220.9" r="1.6" fill="#e8c15a" stroke="none" stroke-width="0.5"/>
<circle cx="59.1" cy="223.2" r="1.6" fill="#e8c15a" stroke="none" stroke-width="0.5"/>
<circle cx="55.8" cy="224.9" r="1.6" fill="#e8c15a" stroke="none" stroke-width="0.5"/>
<circle cx="55.1" cy="226.9" r="1.6" fill="#e8c15a" stroke="none" stroke-width="0.5"/>
<circle cx="63.8" cy="230.3" r="1.6" fill="#e8c15a" stroke="none" stroke-width="0.5"/>
<circle cx="58.29" cy="214.79" r="1.6" fill="#e8c15a" stroke="none" stroke-width="0.5"/>
<circle cx="54.11" cy="211.81" r="1.6" fill="#e8c15a" stroke="none" stroke-width="0.5"/>
<circle cx="63.23" cy="213.72" r="1.6" fill="#e8c15a" stroke="none" stroke-width="0.5"/>
<circle cx="55.06" cy="212.14" r="1.6" fill="#e8c15a" stroke="none" stroke-width="0.5"/>
<circle cx="62.42" cy="212.6" r="1.6" fill="#e8c15a" stroke="none" stroke-width="0.5"/>
<circle cx="54.08" cy="214.88" r="1.6" fill="#e8c15a" stroke="none" stroke-width="0.5"/>
<circle cx="55.07" cy="213.61" r="1.6" fill="#e8c15a" stroke="none" stroke-width="0.5"/>
<circle cx="59.87" cy="212.7" r="1.6" fill="#e8c15a" stroke="none" stroke-width="0.5"/>
<circle cx="63.23" cy="211.28" r="1.6" fill="#e8c15a" stroke="none" stroke-width="0.5"/>
<circle cx="59.73" cy="210.97" r="1.6" fill="#e8c15a" stroke="none" stroke-width="0.5"/>
<line x1="89.55" y1="314.4" x2="89.55" y2="316" stroke="#111" stroke-width="1.0" />
<rect x="81.6" y="294.9" width="15.9" height="19.5" fill="none" stroke="#111" stroke-width="1.0" />
<line x1="81.6" y1="301.5" x2="97.5" y2="301.5" stroke="#111" stroke-width="1.8" />
<circle cx="86.7" cy="292.2" r="1.6" fill="#d1638e" stroke="none" stroke-width="0.5"/>
<circle cx="88.3" cy="293.5" r="1.6" fill="#d1638e" stroke="none" stroke-width="0.5"/>
<circle cx="91.5" cy="297" r="1.6" fill="#d1638e" stroke="none" stroke-width="0.5"/>
<circle cx="93.6" cy="306.3" r="1.6" fill="#d1638e" stroke="none" stroke-width="0.5"/>
<circle cx="83.8" cy="313.9" r="1.6" fill="#d1638e" stroke="none" stroke-width="0.5"/>
<circle cx="83.8" cy="316.3" r="1.6" fill="#d1638e" stroke="none" stroke-width="0.5"/>
<rect x="141.5" y="181.1" width="68.2" height="10.9" fill="#d9d9d9" stroke="none" stroke-width="1" />
<text x="175.6" y="188.9" font-size="7.3" fill="#1a1a1a" text-anchor="middle" font-weight="normal" font-style="normal"  stroke="#1a1a1a" stroke-width="0.15">Homozygous</text>
<line x1="142" y1="192.6" x2="142" y2="322.4" stroke="#333" stroke-width="1" />
<line x1="142" y1="322.4" x2="209.7" y2="322.4" stroke="#333" stroke-width="1" />
<line x1="137.9" y1="217.5" x2="142" y2="217.5" stroke="#222" stroke-width="0.9" />
<text x="0" y="0" font-size="7.3" fill="#666666" text-anchor="end" font-weight="normal" font-style="normal" transform="translate(134.3 219.9) scale(1 1.1)"  stroke="#666666" stroke-width="0.15">1,500</text>
<line x1="137.9" y1="243.8" x2="142" y2="243.8" stroke="#222" stroke-width="0.9" />
<text x="0" y="0" font-size="7.3" fill="#666666" text-anchor="end" font-weight="normal" font-style="normal" transform="translate(134.3 246.2) scale(1 1.1)"  stroke="#666666" stroke-width="0.15">1,200</text>
<line x1="137.9" y1="270" x2="142" y2="270" stroke="#222" stroke-width="0.9" />
<text x="0" y="0" font-size="7.3" fill="#666666" text-anchor="end" font-weight="normal" font-style="normal" transform="translate(134.3 272.4) scale(1 1.1)"  stroke="#666666" stroke-width="0.15">900</text>
<line x1="137.9" y1="296.2" x2="142" y2="296.2" stroke="#222" stroke-width="0.9" />
<text x="0" y="0" font-size="7.3" fill="#666666" text-anchor="end" font-weight="normal" font-style="normal" transform="translate(134.3 298.6) scale(1 1.1)"  stroke="#666666" stroke-width="0.15">600</text>
<path d="M160.2 200.6V198.3H191.4V200.6" fill="none" stroke="#333" stroke-width="1.0"/>
<rect x="171.33" y="195.35" width="1.3" height="1.3" fill="#333"/>
<rect x="173.88" y="195.35" width="1.3" height="1.3" fill="#333"/>
<rect x="176.43" y="195.35" width="1.3" height="1.3" fill="#333"/>
<rect x="178.97" y="195.35" width="1.3" height="1.3" fill="#333"/>
<line x1="160.6" y1="307.3" x2="160.6" y2="309.9" stroke="#111" stroke-width="1.0" />
<line x1="160.6" y1="313.7" x2="160.6" y2="316.5" stroke="#111" stroke-width="1.0" />
<rect x="152.25" y="309.9" width="16.7" height="3.8" fill="none" stroke="#111" stroke-width="1.0" />
<line x1="152.25" y1="311.8" x2="168.95" y2="311.8" stroke="#111" stroke-width="1.8" />
<circle cx="158.4" cy="303.9" r="1.6" fill="#e8c15a" stroke="none" stroke-width="0.5"/>
<circle cx="160.8" cy="305.6" r="1.6" fill="#e8c15a" stroke="none" stroke-width="0.5"/>
<circle cx="164.1" cy="304.7" r="1.6" fill="#e8c15a" stroke="none" stroke-width="0.5"/>
<circle cx="166" cy="306.6" r="1.6" fill="#e8c15a" stroke="none" stroke-width="0.5"/>
<circle cx="155.1" cy="307.5" r="1.6" fill="#e8c15a" stroke="none" stroke-width="0.5"/>
<circle cx="162.7" cy="307.5" r="1.6" fill="#e8c15a" stroke="none" stroke-width="0.5"/>
<circle cx="154.1" cy="310.4" r="1.6" fill="#e8c15a" stroke="none" stroke-width="0.5"/>
<circle cx="156.5" cy="309.9" r="1.6" fill="#e8c15a" stroke="none" stroke-width="0.5"/>
<circle cx="158.9" cy="310.4" r="1.6" fill="#e8c15a" stroke="none" stroke-width="0.5"/>
<circle cx="161.3" cy="310.8" r="1.6" fill="#e8c15a" stroke="none" stroke-width="0.5"/>
<circle cx="163.6" cy="310.4" r="1.6" fill="#e8c15a" stroke="none" stroke-width="0.5"/>
<circle cx="166" cy="311.3" r="1.6" fill="#e8c15a" stroke="none" stroke-width="0.5"/>
<circle cx="154.6" cy="313.2" r="1.6" fill="#e8c15a" stroke="none" stroke-width="0.5"/>
<circle cx="157" cy="313.2" r="1.6" fill="#e8c15a" stroke="none" stroke-width="0.5"/>
<circle cx="159.4" cy="312.7" r="1.6" fill="#e8c15a" stroke="none" stroke-width="0.5"/>
<circle cx="161.7" cy="313.2" r="1.6" fill="#e8c15a" stroke="none" stroke-width="0.5"/>
<circle cx="164.1" cy="314.2" r="1.6" fill="#e8c15a" stroke="none" stroke-width="0.5"/>
<circle cx="166" cy="313.2" r="1.6" fill="#e8c15a" stroke="none" stroke-width="0.5"/>
<circle cx="156.5" cy="314.6" r="1.6" fill="#e8c15a" stroke="none" stroke-width="0.5"/>
<circle cx="165.1" cy="316.5" r="1.6" fill="#e8c15a" stroke="none" stroke-width="0.5"/>
<circle cx="162.7" cy="316.1" r="1.6" fill="#e8c15a" stroke="none" stroke-width="0.5"/>
<circle cx="161.48" cy="312.3" r="1.6" fill="#e8c15a" stroke="none" stroke-width="0.5"/>
<circle cx="160.46" cy="311.76" r="1.6" fill="#e8c15a" stroke="none" stroke-width="0.5"/>
<circle cx="158.95" cy="312.73" r="1.6" fill="#e8c15a" stroke="none" stroke-width="0.5"/>
<circle cx="158.05" cy="310.67" r="1.6" fill="#e8c15a" stroke="none" stroke-width="0.5"/>
<circle cx="157.09" cy="311.96" r="1.6" fill="#e8c15a" stroke="none" stroke-width="0.5"/>
<circle cx="164.54" cy="311.9" r="1.6" fill="#e8c15a" stroke="none" stroke-width="0.5"/>
<circle cx="155.67" cy="311.1" r="1.6" fill="#e8c15a" stroke="none" stroke-width="0.5"/>
<circle cx="156.31" cy="311.28" r="1.6" fill="#e8c15a" stroke="none" stroke-width="0.5"/>
<circle cx="158.77" cy="312.94" r="1.6" fill="#e8c15a" stroke="none" stroke-width="0.5"/>
<circle cx="160.43" cy="312.69" r="1.6" fill="#e8c15a" stroke="none" stroke-width="0.5"/>
<line x1="191.2" y1="204.4" x2="191.2" y2="216.6" stroke="#111" stroke-width="1.0" />
<line x1="191.2" y1="231" x2="191.2" y2="243.8" stroke="#111" stroke-width="1.0" />
<rect x="183.55" y="216.6" width="15.3" height="14.4" fill="none" stroke="#111" stroke-width="1.0" />
<line x1="183.55" y1="226" x2="198.85" y2="226" stroke="#111" stroke-width="1.8" />
<circle cx="188.4" cy="204.4" r="1.6" fill="#d1638e" stroke="none" stroke-width="0.5"/>
<circle cx="187.4" cy="214.4" r="1.6" fill="#d1638e" stroke="none" stroke-width="0.5"/>
<circle cx="190.2" cy="217.6" r="1.6" fill="#d1638e" stroke="none" stroke-width="0.5"/>
<circle cx="189.9" cy="225.8" r="1.6" fill="#d1638e" stroke="none" stroke-width="0.5"/>
<circle cx="190.9" cy="229.5" r="1.6" fill="#d1638e" stroke="none" stroke-width="0.5"/>
<circle cx="186.6" cy="235.2" r="1.6" fill="#d1638e" stroke="none" stroke-width="0.5"/>
<circle cx="196.6" cy="245.1" r="1.6" fill="#d1638e" stroke="none" stroke-width="0.5"/>
<rect x="242.9" y="181.1" width="68.2" height="10.9" fill="#d9d9d9" stroke="none" stroke-width="1" />
<text x="277" y="188.9" font-size="7.3" fill="#1a1a1a" text-anchor="middle" font-weight="normal" font-style="normal"  stroke="#1a1a1a" stroke-width="0.15">Derived alleles</text>
<line x1="243.4" y1="192.6" x2="243.4" y2="322.4" stroke="#333" stroke-width="1" />
<line x1="243.4" y1="322.4" x2="311.1" y2="322.4" stroke="#333" stroke-width="1" />
<line x1="239.3" y1="205.4" x2="243.4" y2="205.4" stroke="#222" stroke-width="0.9" />
<text x="0" y="0" font-size="7.3" fill="#666666" text-anchor="end" font-weight="normal" font-style="normal" transform="translate(235.7 207.8) scale(1 1.1)"  stroke="#666666" stroke-width="0.15">4,500</text>
<line x1="239.3" y1="246" x2="243.4" y2="246" stroke="#222" stroke-width="0.9" />
<text x="0" y="0" font-size="7.3" fill="#666666" text-anchor="end" font-weight="normal" font-style="normal" transform="translate(235.7 248.4) scale(1 1.1)"  stroke="#666666" stroke-width="0.15">4,000</text>
<line x1="239.3" y1="287" x2="243.4" y2="287" stroke="#222" stroke-width="0.9" />
<text x="0" y="0" font-size="7.3" fill="#666666" text-anchor="end" font-weight="normal" font-style="normal" transform="translate(235.7 289.4) scale(1 1.1)"  stroke="#666666" stroke-width="0.15">3,500</text>
<path d="M261.7 200.6V198.3H292.9V200.6" fill="none" stroke="#333" stroke-width="1.0"/>
<rect x="272.82" y="195.35" width="1.3" height="1.3" fill="#333"/>
<rect x="275.38" y="195.35" width="1.3" height="1.3" fill="#333"/>
<rect x="277.92" y="195.35" width="1.3" height="1.3" fill="#333"/>
<rect x="280.47" y="195.35" width="1.3" height="1.3" fill="#333"/>
<line x1="261.95" y1="303.5" x2="261.95" y2="306.8" stroke="#111" stroke-width="1.0" />
<line x1="261.95" y1="310.6" x2="261.95" y2="313.5" stroke="#111" stroke-width="1.0" />
<rect x="254" y="306.8" width="15.9" height="3.8" fill="none" stroke="#111" stroke-width="1.0" />
<line x1="254" y1="308.7" x2="269.9" y2="308.7" stroke="#111" stroke-width="1.8" />
<circle cx="256.4" cy="302.8" r="1.6" fill="#e8c15a" stroke="none" stroke-width="0.5"/>
<circle cx="258.5" cy="304.7" r="1.6" fill="#e8c15a" stroke="none" stroke-width="0.5"/>
<circle cx="264.2" cy="303.9" r="1.6" fill="#e8c15a" stroke="none" stroke-width="0.5"/>
<circle cx="268" cy="305.4" r="1.6" fill="#e8c15a" stroke="none" stroke-width="0.5"/>
<circle cx="255.7" cy="306.3" r="1.6" fill="#e8c15a" stroke="none" stroke-width="0.5"/>
<circle cx="257.6" cy="307.5" r="1.6" fill="#e8c15a" stroke="none" stroke-width="0.5"/>
<circle cx="260.4" cy="307" r="1.6" fill="#e8c15a" stroke="none" stroke-width="0.5"/>
<circle cx="262.8" cy="308" r="1.6" fill="#e8c15a" stroke="none" stroke-width="0.5"/>
<circle cx="266.1" cy="307" r="1.6" fill="#e8c15a" stroke="none" stroke-width="0.5"/>
<circle cx="268" cy="308" r="1.6" fill="#e8c15a" stroke="none" stroke-width="0.5"/>
<circle cx="255.7" cy="309.9" r="1.6" fill="#e8c15a" stroke="none" stroke-width="0.5"/>
<circle cx="258.5" cy="309.6" r="1.6" fill="#e8c15a" stroke="none" stroke-width="0.5"/>
<circle cx="261.4" cy="309.4" r="1.6" fill="#e8c15a" stroke="none" stroke-width="0.5"/>
<circle cx="264.2" cy="309.9" r="1.6" fill="#e8c15a" stroke="none" stroke-width="0.5"/>
<circle cx="267.1" cy="309.4" r="1.6" fill="#e8c15a" stroke="none" stroke-width="0.5"/>
<circle cx="257.6" cy="312.3" r="1.6" fill="#e8c15a" stroke="none" stroke-width="0.5"/>
<circle cx="261.4" cy="311.8" r="1.6" fill="#e8c15a" stroke="none" stroke-width="0.5"/>
<circle cx="263.7" cy="313.2" r="1.6" fill="#e8c15a" stroke="none" stroke-width="0.5"/>
<circle cx="268" cy="312.7" r="1.6" fill="#e8c15a" stroke="none" stroke-width="0.5"/>
<circle cx="259.2" cy="316.5" r="1.6" fill="#e8c15a" stroke="none" stroke-width="0.5"/>
<circle cx="266.68" cy="308.77" r="1.6" fill="#e8c15a" stroke="none" stroke-width="0.5"/>
<circle cx="261.2" cy="308.56" r="1.6" fill="#e8c15a" stroke="none" stroke-width="0.5"/>
<circle cx="260.03" cy="308.03" r="1.6" fill="#e8c15a" stroke="none" stroke-width="0.5"/>
<circle cx="257.04" cy="308.33" r="1.6" fill="#e8c15a" stroke="none" stroke-width="0.5"/>
<circle cx="260.11" cy="309.19" r="1.6" fill="#e8c15a" stroke="none" stroke-width="0.5"/>
<circle cx="259.09" cy="309.29" r="1.6" fill="#e8c15a" stroke="none" stroke-width="0.5"/>
<circle cx="263.37" cy="307.44" r="1.6" fill="#e8c15a" stroke="none" stroke-width="0.5"/>
<circle cx="258.58" cy="308.1" r="1.6" fill="#e8c15a" stroke="none" stroke-width="0.5"/>
<circle cx="265.89" cy="307.82" r="1.6" fill="#e8c15a" stroke="none" stroke-width="0.5"/>
<circle cx="264.33" cy="309.29" r="1.6" fill="#e8c15a" stroke="none" stroke-width="0.5"/>
<line x1="293" y1="223.5" x2="293" y2="226.2" stroke="#111" stroke-width="1.0" />
<line x1="293" y1="239.3" x2="293" y2="245.1" stroke="#111" stroke-width="1.0" />
<rect x="285.3" y="226.2" width="15.4" height="13.1" fill="none" stroke="#111" stroke-width="1.0" />
<line x1="285.3" y1="231.1" x2="300.7" y2="231.1" stroke="#111" stroke-width="1.8" />
<circle cx="295.8" cy="204.3" r="1.6" fill="#d1638e" stroke="none" stroke-width="0.5"/>
<circle cx="292.9" cy="223.2" r="1.6" fill="#d1638e" stroke="none" stroke-width="0.5"/>
<circle cx="291.5" cy="227" r="1.6" fill="#d1638e" stroke="none" stroke-width="0.5"/>
<circle cx="289" cy="231.1" r="1.6" fill="#d1638e" stroke="none" stroke-width="0.5"/>
<circle cx="292.9" cy="231.1" r="1.6" fill="#d1638e" stroke="none" stroke-width="0.5"/>
<circle cx="289" cy="237.2" r="1.6" fill="#d1638e" stroke="none" stroke-width="0.5"/>
<circle cx="289.3" cy="245.6" r="1.6" fill="#d1638e" stroke="none" stroke-width="0.5"/>
<circle cx="295.9" cy="259.3" r="1.6" fill="#d1638e" stroke="none" stroke-width="0.5"/>
<rect x="354" y="181.1" width="68.2" height="10.9" fill="#d9d9d9" stroke="none" stroke-width="1" />
<text x="388.1" y="188.9" font-size="7.3" fill="#1a1a1a" text-anchor="middle" font-weight="normal" font-style="normal"  stroke="#1a1a1a" stroke-width="0.15">Heterozygous</text>
<line x1="354.5" y1="192.6" x2="354.5" y2="322.4" stroke="#333" stroke-width="1" />
<line x1="354.5" y1="322.4" x2="422.2" y2="322.4" stroke="#333" stroke-width="1" />
<line x1="350.4" y1="197.5" x2="354.5" y2="197.5" stroke="#222" stroke-width="0.9" />
<text x="0" y="0" font-size="7.3" fill="#666666" text-anchor="end" font-weight="normal" font-style="normal" transform="translate(346.8 199.9) scale(1 1.1)"  stroke="#666666" stroke-width="0.15">800</text>
<line x1="350.4" y1="225.3" x2="354.5" y2="225.3" stroke="#222" stroke-width="0.9" />
<text x="0" y="0" font-size="7.3" fill="#666666" text-anchor="end" font-weight="normal" font-style="normal" transform="translate(346.8 227.7) scale(1 1.1)"  stroke="#666666" stroke-width="0.15">700</text>
<line x1="350.4" y1="252.8" x2="354.5" y2="252.8" stroke="#222" stroke-width="0.9" />
<text x="0" y="0" font-size="7.3" fill="#666666" text-anchor="end" font-weight="normal" font-style="normal" transform="translate(346.8 255.2) scale(1 1.1)"  stroke="#666666" stroke-width="0.15">600</text>
<line x1="350.4" y1="280.9" x2="354.5" y2="280.9" stroke="#222" stroke-width="0.9" />
<text x="0" y="0" font-size="7.3" fill="#666666" text-anchor="end" font-weight="normal" font-style="normal" transform="translate(346.8 283.3) scale(1 1.1)"  stroke="#666666" stroke-width="0.15">500</text>
<line x1="350.4" y1="308.6" x2="354.5" y2="308.6" stroke="#222" stroke-width="0.9" />
<text x="0" y="0" font-size="7.3" fill="#666666" text-anchor="end" font-weight="normal" font-style="normal" transform="translate(346.8 311) scale(1 1.1)"  stroke="#666666" stroke-width="0.15">400</text>
<path d="M373 200.6V198.3H404.6V200.6" fill="none" stroke="#333" stroke-width="1.0"/>
<rect x="384.33" y="195.35" width="1.3" height="1.3" fill="#333"/>
<rect x="386.88" y="195.35" width="1.3" height="1.3" fill="#333"/>
<rect x="389.43" y="195.35" width="1.3" height="1.3" fill="#333"/>
<rect x="391.98" y="195.35" width="1.3" height="1.3" fill="#333"/>
<line x1="373.3" y1="204.5" x2="373.3" y2="210" stroke="#111" stroke-width="1.0" />
<line x1="373.3" y1="219.3" x2="373.3" y2="230.2" stroke="#111" stroke-width="1.0" />
<rect x="365.3" y="210" width="16" height="9.3" fill="none" stroke="#111" stroke-width="1.0" />
<line x1="365.3" y1="213.4" x2="381.3" y2="213.4" stroke="#111" stroke-width="1.8" />
<circle cx="367.4" cy="204" r="1.6" fill="#e8c15a" stroke="none" stroke-width="0.5"/>
<circle cx="371.5" cy="204.8" r="1.6" fill="#e8c15a" stroke="none" stroke-width="0.5"/>
<circle cx="379.4" cy="204" r="1.6" fill="#e8c15a" stroke="none" stroke-width="0.5"/>
<circle cx="374.2" cy="206.3" r="1.6" fill="#e8c15a" stroke="none" stroke-width="0.5"/>
<circle cx="368.5" cy="207.4" r="1.6" fill="#e8c15a" stroke="none" stroke-width="0.5"/>
<circle cx="376.8" cy="207.8" r="1.6" fill="#e8c15a" stroke="none" stroke-width="0.5"/>
<circle cx="367" cy="210.4" r="1.6" fill="#e8c15a" stroke="none" stroke-width="0.5"/>
<circle cx="370.8" cy="210" r="1.6" fill="#e8c15a" stroke="none" stroke-width="0.5"/>
<circle cx="374.9" cy="210.4" r="1.6" fill="#e8c15a" stroke="none" stroke-width="0.5"/>
<circle cx="378.3" cy="210" r="1.6" fill="#e8c15a" stroke="none" stroke-width="0.5"/>
<circle cx="368.2" cy="212.3" r="1.6" fill="#e8c15a" stroke="none" stroke-width="0.5"/>
<circle cx="373" cy="212.3" r="1.6" fill="#e8c15a" stroke="none" stroke-width="0.5"/>
<circle cx="376.8" cy="211.9" r="1.6" fill="#e8c15a" stroke="none" stroke-width="0.5"/>
<circle cx="370" cy="215.3" r="1.6" fill="#e8c15a" stroke="none" stroke-width="0.5"/>
<circle cx="374.2" cy="215.7" r="1.6" fill="#e8c15a" stroke="none" stroke-width="0.5"/>
<circle cx="378.3" cy="216.8" r="1.6" fill="#e8c15a" stroke="none" stroke-width="0.5"/>
<circle cx="368.9" cy="217.5" r="1.6" fill="#e8c15a" stroke="none" stroke-width="0.5"/>
<circle cx="372.7" cy="217.9" r="1.6" fill="#e8c15a" stroke="none" stroke-width="0.5"/>
<circle cx="376" cy="218.3" r="1.6" fill="#e8c15a" stroke="none" stroke-width="0.5"/>
<circle cx="379.8" cy="218.3" r="1.6" fill="#e8c15a" stroke="none" stroke-width="0.5"/>
<circle cx="371.5" cy="219.8" r="1.6" fill="#e8c15a" stroke="none" stroke-width="0.5"/>
<circle cx="375.3" cy="219.8" r="1.6" fill="#e8c15a" stroke="none" stroke-width="0.5"/>
<circle cx="369.7" cy="222.1" r="1.6" fill="#e8c15a" stroke="none" stroke-width="0.5"/>
<circle cx="371.9" cy="222.8" r="1.6" fill="#e8c15a" stroke="none" stroke-width="0.5"/>
<circle cx="376.4" cy="222.1" r="1.6" fill="#e8c15a" stroke="none" stroke-width="0.5"/>
<circle cx="367.4" cy="228.8" r="1.6" fill="#e8c15a" stroke="none" stroke-width="0.5"/>
<circle cx="371.9" cy="231.1" r="1.6" fill="#e8c15a" stroke="none" stroke-width="0.5"/>
<circle cx="378.3" cy="233.3" r="1.6" fill="#e8c15a" stroke="none" stroke-width="0.5"/>
<circle cx="370.44" cy="211.22" r="1.6" fill="#e8c15a" stroke="none" stroke-width="0.5"/>
<circle cx="369.26" cy="216.85" r="1.6" fill="#e8c15a" stroke="none" stroke-width="0.5"/>
<circle cx="374.66" cy="210.52" r="1.6" fill="#e8c15a" stroke="none" stroke-width="0.5"/>
<circle cx="371.37" cy="212.41" r="1.6" fill="#e8c15a" stroke="none" stroke-width="0.5"/>
<circle cx="374.88" cy="214.04" r="1.6" fill="#e8c15a" stroke="none" stroke-width="0.5"/>
<circle cx="370.01" cy="217.46" r="1.6" fill="#e8c15a" stroke="none" stroke-width="0.5"/>
<circle cx="371.16" cy="217.92" r="1.6" fill="#e8c15a" stroke="none" stroke-width="0.5"/>
<circle cx="373.1" cy="212.86" r="1.6" fill="#e8c15a" stroke="none" stroke-width="0.5"/>
<circle cx="374.12" cy="212.36" r="1.6" fill="#e8c15a" stroke="none" stroke-width="0.5"/>
<circle cx="375.26" cy="215.62" r="1.6" fill="#e8c15a" stroke="none" stroke-width="0.5"/>
<line x1="404.1" y1="292.4" x2="404.1" y2="301.4" stroke="#111" stroke-width="1.0" />
<line x1="404.1" y1="310.6" x2="404.1" y2="316" stroke="#111" stroke-width="1.0" />
<rect x="396.2" y="301.4" width="15.8" height="9.2" fill="none" stroke="#111" stroke-width="1.0" />
<line x1="396.2" y1="307.6" x2="412" y2="307.6" stroke="#111" stroke-width="1.8" />
<circle cx="402.4" cy="291.8" r="1.6" fill="#d1638e" stroke="none" stroke-width="0.5"/>
<circle cx="398.2" cy="299.2" r="1.6" fill="#d1638e" stroke="none" stroke-width="0.5"/>
<circle cx="401.9" cy="302.5" r="1.6" fill="#d1638e" stroke="none" stroke-width="0.5"/>
<circle cx="405.8" cy="308.1" r="1.6" fill="#d1638e" stroke="none" stroke-width="0.5"/>
<circle cx="408.3" cy="306.9" r="1.6" fill="#d1638e" stroke="none" stroke-width="0.5"/>
<circle cx="408.8" cy="309.8" r="1.6" fill="#d1638e" stroke="none" stroke-width="0.5"/>
<circle cx="406.6" cy="312.6" r="1.6" fill="#d1638e" stroke="none" stroke-width="0.5"/>
<circle cx="398.2" cy="316.5" r="1.6" fill="#d1638e" stroke="none" stroke-width="0.5"/>
<rect x="456.1" y="181.1" width="68.2" height="10.9" fill="#d9d9d9" stroke="none" stroke-width="1" />
<text x="490.2" y="188.9" font-size="7.3" fill="#1a1a1a" text-anchor="middle" font-weight="normal" font-style="normal"  stroke="#1a1a1a" stroke-width="0.15">Homozygous</text>
<line x1="456.6" y1="192.6" x2="456.6" y2="322.4" stroke="#333" stroke-width="1" />
<line x1="456.6" y1="322.4" x2="524.3" y2="322.4" stroke="#333" stroke-width="1" />
<line x1="452.5" y1="209.2" x2="456.6" y2="209.2" stroke="#222" stroke-width="0.9" />
<text x="0" y="0" font-size="7.3" fill="#666666" text-anchor="end" font-weight="normal" font-style="normal" transform="translate(448.9 211.6) scale(1 1.1)"  stroke="#666666" stroke-width="0.15">500</text>
<line x1="452.5" y1="237.8" x2="456.6" y2="237.8" stroke="#222" stroke-width="0.9" />
<text x="0" y="0" font-size="7.3" fill="#666666" text-anchor="end" font-weight="normal" font-style="normal" transform="translate(448.9 240.2) scale(1 1.1)"  stroke="#666666" stroke-width="0.15">400</text>
<line x1="452.5" y1="266.1" x2="456.6" y2="266.1" stroke="#222" stroke-width="0.9" />
<text x="0" y="0" font-size="7.3" fill="#666666" text-anchor="end" font-weight="normal" font-style="normal" transform="translate(448.9 268.5) scale(1 1.1)"  stroke="#666666" stroke-width="0.15">300</text>
<line x1="452.5" y1="294.4" x2="456.6" y2="294.4" stroke="#222" stroke-width="0.9" />
<text x="0" y="0" font-size="7.3" fill="#666666" text-anchor="end" font-weight="normal" font-style="normal" transform="translate(448.9 296.8) scale(1 1.1)"  stroke="#666666" stroke-width="0.15">200</text>
<path d="M474.6 200.6V198.3H505.6V200.6" fill="none" stroke="#333" stroke-width="1.0"/>
<rect x="485.63" y="195.35" width="1.3" height="1.3" fill="#333"/>
<rect x="488.18" y="195.35" width="1.3" height="1.3" fill="#333"/>
<rect x="490.73" y="195.35" width="1.3" height="1.3" fill="#333"/>
<rect x="493.28" y="195.35" width="1.3" height="1.3" fill="#333"/>
<line x1="474.75" y1="303.2" x2="474.75" y2="307.3" stroke="#111" stroke-width="1.0" />
<line x1="474.75" y1="311.1" x2="474.75" y2="316.3" stroke="#111" stroke-width="1.0" />
<rect x="466.7" y="307.3" width="16.1" height="3.8" fill="none" stroke="#111" stroke-width="1.0" />
<line x1="466.7" y1="309.2" x2="482.8" y2="309.2" stroke="#111" stroke-width="1.8" />
<circle cx="476.4" cy="301.1" r="1.6" fill="#e8c15a" stroke="none" stroke-width="0.5"/>
<circle cx="469" cy="304.9" r="1.6" fill="#e8c15a" stroke="none" stroke-width="0.5"/>
<circle cx="471.4" cy="303.9" r="1.6" fill="#e8c15a" stroke="none" stroke-width="0.5"/>
<circle cx="476.6" cy="303.2" r="1.6" fill="#e8c15a" stroke="none" stroke-width="0.5"/>
<circle cx="480.4" cy="305.6" r="1.6" fill="#e8c15a" stroke="none" stroke-width="0.5"/>
<circle cx="469.5" cy="307.3" r="1.6" fill="#e8c15a" stroke="none" stroke-width="0.5"/>
<circle cx="472.4" cy="306.6" r="1.6" fill="#e8c15a" stroke="none" stroke-width="0.5"/>
<circle cx="475.7" cy="306.3" r="1.6" fill="#e8c15a" stroke="none" stroke-width="0.5"/>
<circle cx="479" cy="307.3" r="1.6" fill="#e8c15a" stroke="none" stroke-width="0.5"/>
<circle cx="469" cy="309.9" r="1.6" fill="#e8c15a" stroke="none" stroke-width="0.5"/>
<circle cx="471.4" cy="309.4" r="1.6" fill="#e8c15a" stroke="none" stroke-width="0.5"/>
<circle cx="474.3" cy="309.2" r="1.6" fill="#e8c15a" stroke="none" stroke-width="0.5"/>
<circle cx="477.1" cy="309.6" r="1.6" fill="#e8c15a" stroke="none" stroke-width="0.5"/>
<circle cx="480" cy="309.4" r="1.6" fill="#e8c15a" stroke="none" stroke-width="0.5"/>
<circle cx="469" cy="312.7" r="1.6" fill="#e8c15a" stroke="none" stroke-width="0.5"/>
<circle cx="471.9" cy="312.3" r="1.6" fill="#e8c15a" stroke="none" stroke-width="0.5"/>
<circle cx="475.2" cy="312.5" r="1.6" fill="#e8c15a" stroke="none" stroke-width="0.5"/>
<circle cx="478.5" cy="311.8" r="1.6" fill="#e8c15a" stroke="none" stroke-width="0.5"/>
<circle cx="480.9" cy="312.3" r="1.6" fill="#e8c15a" stroke="none" stroke-width="0.5"/>
<circle cx="476.4" cy="315.6" r="1.6" fill="#e8c15a" stroke="none" stroke-width="0.5"/>
<circle cx="480.4" cy="316.3" r="1.6" fill="#e8c15a" stroke="none" stroke-width="0.5"/>
<circle cx="477.26" cy="310.51" r="1.6" fill="#e8c15a" stroke="none" stroke-width="0.5"/>
<circle cx="474.1" cy="310.02" r="1.6" fill="#e8c15a" stroke="none" stroke-width="0.5"/>
<circle cx="476.25" cy="309.53" r="1.6" fill="#e8c15a" stroke="none" stroke-width="0.5"/>
<circle cx="478" cy="310.01" r="1.6" fill="#e8c15a" stroke="none" stroke-width="0.5"/>
<circle cx="478.65" cy="308.71" r="1.6" fill="#e8c15a" stroke="none" stroke-width="0.5"/>
<circle cx="479.66" cy="308.12" r="1.6" fill="#e8c15a" stroke="none" stroke-width="0.5"/>
<circle cx="474.53" cy="309.11" r="1.6" fill="#e8c15a" stroke="none" stroke-width="0.5"/>
<circle cx="472.36" cy="308.15" r="1.6" fill="#e8c15a" stroke="none" stroke-width="0.5"/>
<circle cx="471.57" cy="308.89" r="1.6" fill="#e8c15a" stroke="none" stroke-width="0.5"/>
<circle cx="474.96" cy="310" r="1.6" fill="#e8c15a" stroke="none" stroke-width="0.5"/>
<line x1="505.75" y1="216.4" x2="505.75" y2="222.9" stroke="#111" stroke-width="1.0" />
<line x1="505.75" y1="228.3" x2="505.75" y2="233.6" stroke="#111" stroke-width="1.0" />
<rect x="497.9" y="222.9" width="15.7" height="5.4" fill="none" stroke="#111" stroke-width="1.0" />
<line x1="497.9" y1="227.6" x2="513.6" y2="227.6" stroke="#111" stroke-width="1.8" />
<circle cx="500" cy="204.4" r="1.6" fill="#d1638e" stroke="none" stroke-width="0.5"/>
<circle cx="501.1" cy="216.4" r="1.6" fill="#d1638e" stroke="none" stroke-width="0.5"/>
<circle cx="501.1" cy="227.7" r="1.6" fill="#d1638e" stroke="none" stroke-width="0.5"/>
<circle cx="502.7" cy="227.7" r="1.6" fill="#d1638e" stroke="none" stroke-width="0.5"/>
<circle cx="507.5" cy="225.1" r="1.6" fill="#d1638e" stroke="none" stroke-width="0.5"/>
<circle cx="508" cy="229.6" r="1.6" fill="#d1638e" stroke="none" stroke-width="0.5"/>
<circle cx="503.8" cy="235.7" r="1.6" fill="#d1638e" stroke="none" stroke-width="0.5"/>
<rect x="557.6" y="181.1" width="68.2" height="10.9" fill="#d9d9d9" stroke="none" stroke-width="1" />
<text x="591.7" y="188.9" font-size="7.3" fill="#1a1a1a" text-anchor="middle" font-weight="normal" font-style="normal"  stroke="#1a1a1a" stroke-width="0.15">Derived alleles</text>
<line x1="558.1" y1="192.6" x2="558.1" y2="322.4" stroke="#333" stroke-width="1" />
<line x1="558.1" y1="322.4" x2="625.8" y2="322.4" stroke="#333" stroke-width="1" />
<line x1="554" y1="210.7" x2="558.1" y2="210.7" stroke="#222" stroke-width="0.9" />
<text x="0" y="0" font-size="7.3" fill="#666666" text-anchor="end" font-weight="normal" font-style="normal" transform="translate(550.4 213.1) scale(1 1.1)"  stroke="#666666" stroke-width="0.15">1,400</text>
<line x1="554" y1="235.3" x2="558.1" y2="235.3" stroke="#222" stroke-width="0.9" />
<text x="0" y="0" font-size="7.3" fill="#666666" text-anchor="end" font-weight="normal" font-style="normal" transform="translate(550.4 237.7) scale(1 1.1)"  stroke="#666666" stroke-width="0.15">1,300</text>
<line x1="554" y1="260.2" x2="558.1" y2="260.2" stroke="#222" stroke-width="0.9" />
<text x="0" y="0" font-size="7.3" fill="#666666" text-anchor="end" font-weight="normal" font-style="normal" transform="translate(550.4 262.6) scale(1 1.1)"  stroke="#666666" stroke-width="0.15">1,200</text>
<line x1="554" y1="285.2" x2="558.1" y2="285.2" stroke="#222" stroke-width="0.9" />
<text x="0" y="0" font-size="7.3" fill="#666666" text-anchor="end" font-weight="normal" font-style="normal" transform="translate(550.4 287.6) scale(1 1.1)"  stroke="#666666" stroke-width="0.15">1,100</text>
<line x1="554" y1="309.7" x2="558.1" y2="309.7" stroke="#222" stroke-width="0.9" />
<text x="0" y="0" font-size="7.3" fill="#666666" text-anchor="end" font-weight="normal" font-style="normal" transform="translate(550.4 312.1) scale(1 1.1)"  stroke="#666666" stroke-width="0.15">1,000</text>
<path d="M576.4 200.6V198.3H607.6V200.6" fill="none" stroke="#333" stroke-width="1.0"/>
<rect x="587.52" y="195.35" width="1.3" height="1.3" fill="#333"/>
<rect x="590.08" y="195.35" width="1.3" height="1.3" fill="#333"/>
<rect x="592.62" y="195.35" width="1.3" height="1.3" fill="#333"/>
<rect x="595.18" y="195.35" width="1.3" height="1.3" fill="#333"/>
<line x1="576.3" y1="295.9" x2="576.3" y2="299.7" stroke="#111" stroke-width="1.0" />
<line x1="576.3" y1="304.5" x2="576.3" y2="309.9" stroke="#111" stroke-width="1.0" />
<rect x="568.05" y="299.7" width="16.5" height="4.8" fill="none" stroke="#111" stroke-width="1.0" />
<line x1="568.05" y1="302" x2="584.55" y2="302" stroke="#111" stroke-width="1.8" />
<circle cx="570.6" cy="294" r="1.6" fill="#e8c15a" stroke="none" stroke-width="0.5"/>
<circle cx="574.7" cy="293.1" r="1.6" fill="#e8c15a" stroke="none" stroke-width="0.5"/>
<circle cx="577.9" cy="292.8" r="1.6" fill="#e8c15a" stroke="none" stroke-width="0.5"/>
<circle cx="577.2" cy="294.3" r="1.6" fill="#e8c15a" stroke="none" stroke-width="0.5"/>
<circle cx="582.3" cy="295.3" r="1.6" fill="#e8c15a" stroke="none" stroke-width="0.5"/>
<circle cx="569.9" cy="296.6" r="1.6" fill="#e8c15a" stroke="none" stroke-width="0.5"/>
<circle cx="573.1" cy="295.9" r="1.6" fill="#e8c15a" stroke="none" stroke-width="0.5"/>
<circle cx="581" cy="298.1" r="1.6" fill="#e8c15a" stroke="none" stroke-width="0.5"/>
<circle cx="570.9" cy="299.4" r="1.6" fill="#e8c15a" stroke="none" stroke-width="0.5"/>
<circle cx="574" cy="299.4" r="1.6" fill="#e8c15a" stroke="none" stroke-width="0.5"/>
<circle cx="577.2" cy="300" r="1.6" fill="#e8c15a" stroke="none" stroke-width="0.5"/>
<circle cx="580.4" cy="300" r="1.6" fill="#e8c15a" stroke="none" stroke-width="0.5"/>
<circle cx="570.2" cy="302" r="1.6" fill="#e8c15a" stroke="none" stroke-width="0.5"/>
<circle cx="573.4" cy="302" r="1.6" fill="#e8c15a" stroke="none" stroke-width="0.5"/>
<circle cx="576.6" cy="302.3" r="1.6" fill="#e8c15a" stroke="none" stroke-width="0.5"/>
<circle cx="579.8" cy="302.6" r="1.6" fill="#e8c15a" stroke="none" stroke-width="0.5"/>
<circle cx="582.9" cy="303.2" r="1.6" fill="#e8c15a" stroke="none" stroke-width="0.5"/>
<circle cx="572.1" cy="304.2" r="1.6" fill="#e8c15a" stroke="none" stroke-width="0.5"/>
<circle cx="575.3" cy="303.9" r="1.6" fill="#e8c15a" stroke="none" stroke-width="0.5"/>
<circle cx="581" cy="305.1" r="1.6" fill="#e8c15a" stroke="none" stroke-width="0.5"/>
<circle cx="573.4" cy="306.4" r="1.6" fill="#e8c15a" stroke="none" stroke-width="0.5"/>
<circle cx="576.6" cy="307" r="1.6" fill="#e8c15a" stroke="none" stroke-width="0.5"/>
<circle cx="572.1" cy="308.9" r="1.6" fill="#e8c15a" stroke="none" stroke-width="0.5"/>
<circle cx="574" cy="309.9" r="1.6" fill="#e8c15a" stroke="none" stroke-width="0.5"/>
<circle cx="572.1" cy="312.7" r="1.6" fill="#e8c15a" stroke="none" stroke-width="0.5"/>
<circle cx="574.4" cy="316.5" r="1.6" fill="#e8c15a" stroke="none" stroke-width="0.5"/>
<circle cx="581.43" cy="303.42" r="1.6" fill="#e8c15a" stroke="none" stroke-width="0.5"/>
<circle cx="576.78" cy="302.17" r="1.6" fill="#e8c15a" stroke="none" stroke-width="0.5"/>
<circle cx="571.27" cy="303.8" r="1.6" fill="#e8c15a" stroke="none" stroke-width="0.5"/>
<circle cx="572.88" cy="303.08" r="1.6" fill="#e8c15a" stroke="none" stroke-width="0.5"/>
<circle cx="577.25" cy="301.06" r="1.6" fill="#e8c15a" stroke="none" stroke-width="0.5"/>
<circle cx="578.23" cy="302.56" r="1.6" fill="#e8c15a" stroke="none" stroke-width="0.5"/>
<circle cx="579.42" cy="303.79" r="1.6" fill="#e8c15a" stroke="none" stroke-width="0.5"/>
<circle cx="580.68" cy="302.87" r="1.6" fill="#e8c15a" stroke="none" stroke-width="0.5"/>
<circle cx="579.25" cy="303.74" r="1.6" fill="#e8c15a" stroke="none" stroke-width="0.5"/>
<circle cx="580.29" cy="301.33" r="1.6" fill="#e8c15a" stroke="none" stroke-width="0.5"/>
<line x1="607.45" y1="241.3" x2="607.45" y2="250.2" stroke="#111" stroke-width="1.0" />
<rect x="599.45" y="228.4" width="16" height="12.9" fill="none" stroke="#111" stroke-width="1.0" />
<line x1="599.45" y1="236" x2="615.45" y2="236" stroke="#111" stroke-width="1.8" />
<circle cx="608.5" cy="226.4" r="1.6" fill="#d1638e" stroke="none" stroke-width="0.5"/>
<circle cx="607.4" cy="229.2" r="1.6" fill="#d1638e" stroke="none" stroke-width="0.5"/>
<circle cx="605.1" cy="233.5" r="1.6" fill="#d1638e" stroke="none" stroke-width="0.5"/>
<circle cx="602" cy="238.6" r="1.6" fill="#d1638e" stroke="none" stroke-width="0.5"/>
<circle cx="604.2" cy="240.6" r="1.6" fill="#d1638e" stroke="none" stroke-width="0.5"/>
<circle cx="610.3" cy="244.4" r="1.6" fill="#d1638e" stroke="none" stroke-width="0.5"/>
<circle cx="607.8" cy="250.4" r="1.6" fill="#d1638e" stroke="none" stroke-width="0.5"/>
<text x="7.9" y="257.7" font-size="8.9" fill="#000" text-anchor="middle" font-weight="bold" font-style="normal" transform="rotate(-90 7.9 257.7)" >Deleterious (DEL)</text>
<text x="331.5" y="257.2" font-size="8.9" fill="#000" text-anchor="middle" font-weight="bold" font-style="normal" transform="rotate(-90 331.5 257.2)" >Loss of function (LOF)</text>
<text x="632.8" y="239.6" font-size="7.3" fill="#000" text-anchor="start" font-weight="bold" font-style="italic" >C. cathayensis</text>
<line x1="638.25" y1="251.8" x2="638.25" y2="261.8" stroke="#444" stroke-width="0.7" />
<rect x="633.1" y="253.9" width="10.3" height="5.8" fill="#fff" stroke="#444" stroke-width="0.7" />
<line x1="633.1" y1="256.8" x2="643.4" y2="256.8" stroke="#444" stroke-width="0.7" />
<circle cx="638.25" cy="256.8" r="1.7" fill="#e8c15a" stroke="none" stroke-width="0.5"/>
<text x="646.4" y="259.4" font-size="7.3" fill="#1a1a1a" text-anchor="start" font-weight="normal" font-style="normal"  stroke="#1a1a1a" stroke-width="0.15">apomictic</text>
<line x1="638.25" y1="264.3" x2="638.25" y2="274.3" stroke="#444" stroke-width="0.7" />
<rect x="633.1" y="266.4" width="10.3" height="5.8" fill="#fff" stroke="#444" stroke-width="0.7" />
<line x1="633.1" y1="269.3" x2="643.4" y2="269.3" stroke="#444" stroke-width="0.7" />
<circle cx="638.25" cy="269.3" r="1.7" fill="#cd5a82" stroke="none" stroke-width="0.5"/>
<text x="646.4" y="271.9" font-size="7.3" fill="#1a1a1a" text-anchor="start" font-weight="normal" font-style="normal"  stroke="#1a1a1a" stroke-width="0.15">sexual</text>
<rect x="38" y="387.7" width="8" height="27.7" fill="#e8c15a" stroke="none" stroke-width="1" />
<rect x="38" y="423.7" width="8" height="20.5" fill="#e8c15a" stroke="none" stroke-width="1" />
<rect x="47.83" y="394.5" width="8" height="20.9" fill="#e8c15a" stroke="none" stroke-width="1" />
<rect x="47.83" y="423.7" width="8" height="24.5" fill="#e8c15a" stroke="none" stroke-width="1" />
<rect x="57.66" y="387.7" width="8" height="27.7" fill="#e8c15a" stroke="none" stroke-width="1" />
<rect x="57.66" y="423.7" width="8" height="26.3" fill="#e8c15a" stroke="none" stroke-width="1" />
<rect x="67.49" y="391.9" width="8" height="23.5" fill="#e8c15a" stroke="none" stroke-width="1" />
<rect x="67.49" y="423.7" width="8" height="14.9" fill="#e8c15a" stroke="none" stroke-width="1" />
<rect x="77.32" y="397.7" width="8" height="17.7" fill="#e8c15a" stroke="none" stroke-width="1" />
<rect x="77.32" y="423.7" width="8" height="26.3" fill="#e8c15a" stroke="none" stroke-width="1" />
<rect x="87.15" y="390.7" width="8" height="24.7" fill="#e8c15a" stroke="none" stroke-width="1" />
<rect x="87.15" y="423.7" width="8" height="22.4" fill="#e8c15a" stroke="none" stroke-width="1" />
<rect x="96.98" y="393.1" width="8" height="22.3" fill="#e8c15a" stroke="none" stroke-width="1" />
<rect x="96.98" y="423.7" width="8" height="22.4" fill="#e8c15a" stroke="none" stroke-width="1" />
<rect x="106.81" y="365.7" width="8" height="49.7" fill="#e8c15a" stroke="none" stroke-width="1" />
<rect x="106.81" y="337" width="8" height="28.7" fill="#cd5a82" stroke="none" stroke-width="1" />
<rect x="106.81" y="423.7" width="8" height="36.1" fill="#e8c15a" stroke="none" stroke-width="1" />
<rect x="106.81" y="459.8" width="8" height="28.1" fill="#cd5a82" stroke="none" stroke-width="1" />
<rect x="116.64" y="393.1" width="8" height="22.3" fill="#e8c15a" stroke="none" stroke-width="1" />
<rect x="116.64" y="423.7" width="8" height="22.4" fill="#e8c15a" stroke="none" stroke-width="1" />
<rect x="126.47" y="384.9" width="8" height="30.5" fill="#e8c15a" stroke="none" stroke-width="1" />
<rect x="126.47" y="423.7" width="8" height="28.2" fill="#e8c15a" stroke="none" stroke-width="1" />
<rect x="136.3" y="395.4" width="8" height="20" fill="#e8c15a" stroke="none" stroke-width="1" />
<rect x="136.3" y="423.7" width="8" height="30.1" fill="#e8c15a" stroke="none" stroke-width="1" />
<rect x="146.13" y="394.9" width="8" height="20.5" fill="#e8c15a" stroke="none" stroke-width="1" />
<rect x="146.13" y="423.7" width="8" height="28.2" fill="#e8c15a" stroke="none" stroke-width="1" />
<rect x="155.96" y="389.6" width="8" height="25.8" fill="#e8c15a" stroke="none" stroke-width="1" />
<rect x="155.96" y="423.7" width="8" height="28.2" fill="#e8c15a" stroke="none" stroke-width="1" />
<rect x="165.79" y="391.2" width="8" height="24.2" fill="#e8c15a" stroke="none" stroke-width="1" />
<rect x="165.79" y="423.7" width="8" height="18.9" fill="#e8c15a" stroke="none" stroke-width="1" />
<rect x="175.62" y="367.8" width="8" height="47.6" fill="#e8c15a" stroke="none" stroke-width="1" />
<rect x="175.62" y="355.9" width="8" height="11.9" fill="#cd5a82" stroke="none" stroke-width="1" />
<rect x="175.62" y="423.7" width="8" height="39.7" fill="#e8c15a" stroke="none" stroke-width="1" />
<rect x="175.62" y="463.4" width="8" height="9.3" fill="#cd5a82" stroke="none" stroke-width="1" />
<rect x="185.45" y="392.6" width="8" height="22.8" fill="#e8c15a" stroke="none" stroke-width="1" />
<rect x="185.45" y="423.7" width="8" height="28.2" fill="#e8c15a" stroke="none" stroke-width="1" />
<rect x="195.28" y="394.2" width="8" height="21.2" fill="#e8c15a" stroke="none" stroke-width="1" />
<rect x="195.28" y="423.7" width="8" height="30.1" fill="#e8c15a" stroke="none" stroke-width="1" />
<rect x="205.11" y="367.4" width="8" height="48" fill="#e8c15a" stroke="none" stroke-width="1" />
<rect x="205.11" y="350.3" width="8" height="17.1" fill="#cd5a82" stroke="none" stroke-width="1" />
<rect x="205.11" y="423.7" width="8" height="41.5" fill="#e8c15a" stroke="none" stroke-width="1" />
<rect x="205.11" y="465.2" width="8" height="9.4" fill="#cd5a82" stroke="none" stroke-width="1" />
<rect x="214.94" y="389.6" width="8" height="25.8" fill="#e8c15a" stroke="none" stroke-width="1" />
<rect x="214.94" y="423.7" width="8" height="24.2" fill="#e8c15a" stroke="none" stroke-width="1" />
<rect x="224.77" y="356.9" width="8" height="58.5" fill="#e8c15a" stroke="none" stroke-width="1" />
<rect x="224.77" y="336.3" width="8" height="20.6" fill="#cd5a82" stroke="none" stroke-width="1" />
<rect x="224.77" y="423.7" width="8" height="47.4" fill="#e8c15a" stroke="none" stroke-width="1" />
<rect x="224.77" y="471.1" width="8" height="32" fill="#cd5a82" stroke="none" stroke-width="1" />
<rect x="234.6" y="394.2" width="8" height="21.2" fill="#e8c15a" stroke="none" stroke-width="1" />
<rect x="234.6" y="423.7" width="8" height="24.2" fill="#e8c15a" stroke="none" stroke-width="1" />
<rect x="244.43" y="394.2" width="8" height="21.2" fill="#e8c15a" stroke="none" stroke-width="1" />
<rect x="244.43" y="423.7" width="8" height="22.4" fill="#e8c15a" stroke="none" stroke-width="1" />
<rect x="254.26" y="394.7" width="8" height="20.7" fill="#e8c15a" stroke="none" stroke-width="1" />
<rect x="254.26" y="423.7" width="8" height="28.2" fill="#e8c15a" stroke="none" stroke-width="1" />
<rect x="264.09" y="397.3" width="8" height="18.1" fill="#e8c15a" stroke="none" stroke-width="1" />
<rect x="264.09" y="423.7" width="8" height="22.4" fill="#e8c15a" stroke="none" stroke-width="1" />
<rect x="273.92" y="382.6" width="8" height="32.8" fill="#e8c15a" stroke="none" stroke-width="1" />
<rect x="273.92" y="423.7" width="8" height="18.9" fill="#e8c15a" stroke="none" stroke-width="1" />
<rect x="283.75" y="397.7" width="8" height="17.7" fill="#e8c15a" stroke="none" stroke-width="1" />
<rect x="283.75" y="423.7" width="8" height="34" fill="#e8c15a" stroke="none" stroke-width="1" />
<rect x="293.58" y="386.1" width="8" height="29.3" fill="#e8c15a" stroke="none" stroke-width="1" />
<rect x="293.58" y="423.7" width="8" height="26.3" fill="#e8c15a" stroke="none" stroke-width="1" />
<rect x="303.41" y="370.9" width="8" height="44.5" fill="#e8c15a" stroke="none" stroke-width="1" />
<rect x="303.41" y="354.5" width="8" height="16.4" fill="#cd5a82" stroke="none" stroke-width="1" />
<rect x="303.41" y="423.7" width="8" height="37.6" fill="#e8c15a" stroke="none" stroke-width="1" />
<rect x="303.41" y="461.3" width="8" height="9.3" fill="#cd5a82" stroke="none" stroke-width="1" />
<rect x="313.24" y="397.3" width="8" height="18.1" fill="#e8c15a" stroke="none" stroke-width="1" />
<rect x="313.24" y="423.7" width="8" height="18.9" fill="#e8c15a" stroke="none" stroke-width="1" />
<rect x="323.07" y="364.6" width="8" height="50.8" fill="#e8c15a" stroke="none" stroke-width="1" />
<rect x="323.07" y="355.7" width="8" height="8.9" fill="#cd5a82" stroke="none" stroke-width="1" />
<rect x="323.07" y="423.7" width="8" height="30.1" fill="#e8c15a" stroke="none" stroke-width="1" />
<rect x="332.9" y="390" width="8" height="25.4" fill="#e8c15a" stroke="none" stroke-width="1" />
<rect x="332.9" y="423.7" width="8" height="22.4" fill="#e8c15a" stroke="none" stroke-width="1" />
<rect x="342.73" y="390.7" width="8" height="24.7" fill="#e8c15a" stroke="none" stroke-width="1" />
<rect x="342.73" y="423.7" width="8" height="22.4" fill="#e8c15a" stroke="none" stroke-width="1" />
<rect x="352.56" y="391.2" width="8" height="24.2" fill="#e8c15a" stroke="none" stroke-width="1" />
<rect x="352.56" y="423.7" width="8" height="26.3" fill="#e8c15a" stroke="none" stroke-width="1" />
<rect x="362.39" y="391.2" width="8" height="24.2" fill="#e8c15a" stroke="none" stroke-width="1" />
<rect x="362.39" y="423.7" width="8" height="28.2" fill="#e8c15a" stroke="none" stroke-width="1" />
<rect x="372.22" y="387.7" width="8" height="27.7" fill="#e8c15a" stroke="none" stroke-width="1" />
<rect x="372.22" y="423.7" width="8" height="30.1" fill="#e8c15a" stroke="none" stroke-width="1" />
<rect x="382.05" y="391.2" width="8" height="24.2" fill="#e8c15a" stroke="none" stroke-width="1" />
<rect x="382.05" y="423.7" width="8" height="24.2" fill="#e8c15a" stroke="none" stroke-width="1" />
<rect x="391.88" y="372.5" width="8" height="42.9" fill="#e8c15a" stroke="none" stroke-width="1" />
<rect x="391.88" y="356.9" width="8" height="15.6" fill="#cd5a82" stroke="none" stroke-width="1" />
<rect x="391.88" y="423.7" width="8" height="36.1" fill="#e8c15a" stroke="none" stroke-width="1" />
<rect x="391.88" y="459.8" width="8" height="9.4" fill="#cd5a82" stroke="none" stroke-width="1" />
<rect x="401.71" y="391.2" width="8" height="24.2" fill="#e8c15a" stroke="none" stroke-width="1" />
<rect x="401.71" y="423.7" width="8" height="30.1" fill="#e8c15a" stroke="none" stroke-width="1" />
<rect x="411.54" y="396.1" width="8" height="19.3" fill="#e8c15a" stroke="none" stroke-width="1" />
<rect x="411.54" y="423.7" width="8" height="30.1" fill="#e8c15a" stroke="none" stroke-width="1" />
<rect x="421.37" y="393.8" width="8" height="21.6" fill="#e8c15a" stroke="none" stroke-width="1" />
<rect x="421.37" y="423.7" width="8" height="22.4" fill="#e8c15a" stroke="none" stroke-width="1" />
<rect x="431.2" y="396.1" width="8" height="19.3" fill="#e8c15a" stroke="none" stroke-width="1" />
<rect x="431.2" y="423.7" width="8" height="26.3" fill="#e8c15a" stroke="none" stroke-width="1" />
<rect x="441.03" y="397.7" width="8" height="17.7" fill="#e8c15a" stroke="none" stroke-width="1" />
<rect x="441.03" y="423.7" width="8" height="22.4" fill="#e8c15a" stroke="none" stroke-width="1" />
<rect x="450.86" y="390" width="8" height="25.4" fill="#e8c15a" stroke="none" stroke-width="1" />
<rect x="450.86" y="423.7" width="8" height="32.2" fill="#e8c15a" stroke="none" stroke-width="1" />
<rect x="460.69" y="375.8" width="8" height="39.6" fill="#e8c15a" stroke="none" stroke-width="1" />
<rect x="460.69" y="362.7" width="8" height="13.1" fill="#cd5a82" stroke="none" stroke-width="1" />
<rect x="460.69" y="423.7" width="8" height="43.2" fill="#e8c15a" stroke="none" stroke-width="1" />
<rect x="460.69" y="466.9" width="8" height="26.8" fill="#cd5a82" stroke="none" stroke-width="1" />
<rect x="470.52" y="392.6" width="8" height="22.8" fill="#e8c15a" stroke="none" stroke-width="1" />
<rect x="470.52" y="423.7" width="8" height="30.1" fill="#e8c15a" stroke="none" stroke-width="1" />
<rect x="480.35" y="391.2" width="8" height="24.2" fill="#e8c15a" stroke="none" stroke-width="1" />
<rect x="480.35" y="423.7" width="8" height="24.2" fill="#e8c15a" stroke="none" stroke-width="1" />
<rect x="490.18" y="391.2" width="8" height="24.2" fill="#e8c15a" stroke="none" stroke-width="1" />
<rect x="490.18" y="423.7" width="8" height="26.3" fill="#e8c15a" stroke="none" stroke-width="1" />
<rect x="500.01" y="394.9" width="8" height="20.5" fill="#e8c15a" stroke="none" stroke-width="1" />
<rect x="500.01" y="423.7" width="8" height="22.4" fill="#e8c15a" stroke="none" stroke-width="1" />
<rect x="509.84" y="394.9" width="8" height="20.5" fill="#e8c15a" stroke="none" stroke-width="1" />
<rect x="509.84" y="423.7" width="8" height="28.2" fill="#e8c15a" stroke="none" stroke-width="1" />
<rect x="519.67" y="390.7" width="8" height="24.7" fill="#e8c15a" stroke="none" stroke-width="1" />
<rect x="519.67" y="423.7" width="8" height="18.9" fill="#e8c15a" stroke="none" stroke-width="1" />
<rect x="529.5" y="390" width="8" height="25.4" fill="#e8c15a" stroke="none" stroke-width="1" />
<rect x="529.5" y="423.7" width="8" height="24.2" fill="#e8c15a" stroke="none" stroke-width="1" />
<rect x="539.33" y="395.9" width="8" height="19.5" fill="#e8c15a" stroke="none" stroke-width="1" />
<rect x="539.33" y="423.7" width="8" height="41.1" fill="#e8c15a" stroke="none" stroke-width="1" />
<rect x="549.16" y="387" width="8" height="28.4" fill="#e8c15a" stroke="none" stroke-width="1" />
<rect x="549.16" y="423.7" width="8" height="22.4" fill="#e8c15a" stroke="none" stroke-width="1" />
<rect x="558.99" y="391.2" width="8" height="24.2" fill="#e8c15a" stroke="none" stroke-width="1" />
<rect x="558.99" y="423.7" width="8" height="26.3" fill="#e8c15a" stroke="none" stroke-width="1" />
<rect x="568.82" y="392.6" width="8" height="22.8" fill="#e8c15a" stroke="none" stroke-width="1" />
<rect x="568.82" y="423.7" width="8" height="26.3" fill="#e8c15a" stroke="none" stroke-width="1" />
<rect x="578.65" y="389.8" width="8" height="25.6" fill="#e8c15a" stroke="none" stroke-width="1" />
<rect x="578.65" y="423.7" width="8" height="30.1" fill="#e8c15a" stroke="none" stroke-width="1" />
<rect x="588.48" y="390.7" width="8" height="24.7" fill="#e8c15a" stroke="none" stroke-width="1" />
<rect x="588.48" y="423.7" width="8" height="22.4" fill="#e8c15a" stroke="none" stroke-width="1" />
<rect x="598.31" y="390.7" width="8" height="24.7" fill="#e8c15a" stroke="none" stroke-width="1" />
<rect x="598.31" y="423.7" width="8" height="26.3" fill="#e8c15a" stroke="none" stroke-width="1" />
<rect x="608.14" y="396.1" width="8" height="19.3" fill="#e8c15a" stroke="none" stroke-width="1" />
<rect x="608.14" y="423.7" width="8" height="18.9" fill="#e8c15a" stroke="none" stroke-width="1" />
<rect x="617.97" y="397.5" width="8" height="17.9" fill="#e8c15a" stroke="none" stroke-width="1" />
<rect x="617.97" y="423.7" width="8" height="26.3" fill="#e8c15a" stroke="none" stroke-width="1" />
<line x1="37.9" y1="382.7" x2="626" y2="382.7" stroke="#999" stroke-width="0.9" stroke-dasharray="1.6 2.2"/>
<line x1="37.9" y1="465.4" x2="626" y2="465.4" stroke="#444" stroke-width="0.75" stroke-dasharray="2.2 1.6"/>
<line x1="37.9" y1="336.9" x2="37.9" y2="415.4" stroke="#555" stroke-width="1.3" />
<line x1="37.4" y1="415.4" x2="626" y2="415.4" stroke="#5c5234" stroke-width="1.1" />
<line x1="37.9" y1="423.7" x2="37.9" y2="503" stroke="#555" stroke-width="1.3" />
<line x1="33.9" y1="415.4" x2="37.9" y2="415.4" stroke="#111" stroke-width="0.9" />
<text x="0" y="0" font-size="7.3" fill="#555" text-anchor="end" font-weight="normal" font-style="normal" transform="translate(31.4 417.9) scale(1 1.1)"  stroke="#555" stroke-width="0.15">0</text>
<line x1="33.9" y1="400.24" x2="37.9" y2="400.24" stroke="#111" stroke-width="0.9" />
<text x="0" y="0" font-size="7.3" fill="#555" text-anchor="end" font-weight="normal" font-style="normal" transform="translate(31.4 402.74) scale(1 1.1)"  stroke="#555" stroke-width="0.15">25</text>
<line x1="33.9" y1="385.08" x2="37.9" y2="385.08" stroke="#111" stroke-width="0.9" />
<text x="0" y="0" font-size="7.3" fill="#555" text-anchor="end" font-weight="normal" font-style="normal" transform="translate(31.4 387.58) scale(1 1.1)"  stroke="#555" stroke-width="0.15">50</text>
<line x1="33.9" y1="369.92" x2="37.9" y2="369.92" stroke="#111" stroke-width="0.9" />
<text x="0" y="0" font-size="7.3" fill="#555" text-anchor="end" font-weight="normal" font-style="normal" transform="translate(31.4 372.42) scale(1 1.1)"  stroke="#555" stroke-width="0.15">75</text>
<line x1="33.9" y1="354.76" x2="37.9" y2="354.76" stroke="#111" stroke-width="0.9" />
<text x="0" y="0" font-size="7.3" fill="#555" text-anchor="end" font-weight="normal" font-style="normal" transform="translate(31.4 357.26) scale(1 1.1)"  stroke="#555" stroke-width="0.15">100</text>
<line x1="33.9" y1="339.6" x2="37.9" y2="339.6" stroke="#111" stroke-width="0.9" />
<text x="0" y="0" font-size="7.3" fill="#555" text-anchor="end" font-weight="normal" font-style="normal" transform="translate(31.4 342.1) scale(1 1.1)"  stroke="#555" stroke-width="0.15">125</text>
<line x1="33.9" y1="423.7" x2="37.9" y2="423.7" stroke="#111" stroke-width="0.9" />
<text x="0" y="0" font-size="7.3" fill="#555" text-anchor="end" font-weight="normal" font-style="normal" transform="translate(31.4 426.2) scale(1 1.1)"  stroke="#555" stroke-width="0.15">0</text>
<line x1="33.9" y1="442.7" x2="37.9" y2="442.7" stroke="#111" stroke-width="0.9" />
<text x="0" y="0" font-size="7.3" fill="#555" text-anchor="end" font-weight="normal" font-style="normal" transform="translate(31.4 445.2) scale(1 1.1)"  stroke="#555" stroke-width="0.15">10</text>
<line x1="33.9" y1="461.6" x2="37.9" y2="461.6" stroke="#111" stroke-width="0.9" />
<text x="0" y="0" font-size="7.3" fill="#555" text-anchor="end" font-weight="normal" font-style="normal" transform="translate(31.4 464.1) scale(1 1.1)"  stroke="#555" stroke-width="0.15">20</text>
<line x1="33.9" y1="480.5" x2="37.9" y2="480.5" stroke="#111" stroke-width="0.9" />
<text x="0" y="0" font-size="7.3" fill="#555" text-anchor="end" font-weight="normal" font-style="normal" transform="translate(31.4 483) scale(1 1.1)"  stroke="#555" stroke-width="0.15">30</text>
<line x1="33.9" y1="499.3" x2="37.9" y2="499.3" stroke="#111" stroke-width="0.9" />
<text x="0" y="0" font-size="7.3" fill="#555" text-anchor="end" font-weight="normal" font-style="normal" transform="translate(31.4 501.8) scale(1 1.1)"  stroke="#555" stroke-width="0.15">40</text>
<text x="14.1" y="375.5" font-size="8.9" fill="#000" text-anchor="middle" font-weight="bold" font-style="normal" transform="rotate(-90 14.1 375.5)" >Homozygous DEL</text>
<text x="14.1" y="464.1" font-size="8.9" fill="#000" text-anchor="middle" font-weight="bold" font-style="normal" transform="rotate(-90 14.1 464.1)" >Homozygous LOF</text>
<line x1="327.2" y1="454.8" x2="333.2" y2="464.5" stroke="#111" stroke-width="0.85" />
<text x="553.1" y="353" font-size="8.7" fill="#000" text-anchor="start" font-weight="bold" font-style="italic" >C. cathayensis</text>
<rect x="654.6" y="390.6" width="7.1" height="2.3" fill="#e8c15a" stroke="none" stroke-width="1" />
<text x="658" y="407.7" font-size="7.3" fill="#1a1a1a" text-anchor="middle" font-weight="normal" font-style="normal"  stroke="#1a1a1a" stroke-width="0.15">ancestral LOHs</text>
<rect x="654.6" y="430.6" width="7.1" height="2.4" fill="#cd5a82" stroke="none" stroke-width="1" />
<text x="658" y="447.3" font-size="7.3" fill="#1a1a1a" text-anchor="middle" font-weight="normal" font-style="normal"  stroke="#1a1a1a" stroke-width="0.15">novel LOHs</text>
</svg>
</body></html>
